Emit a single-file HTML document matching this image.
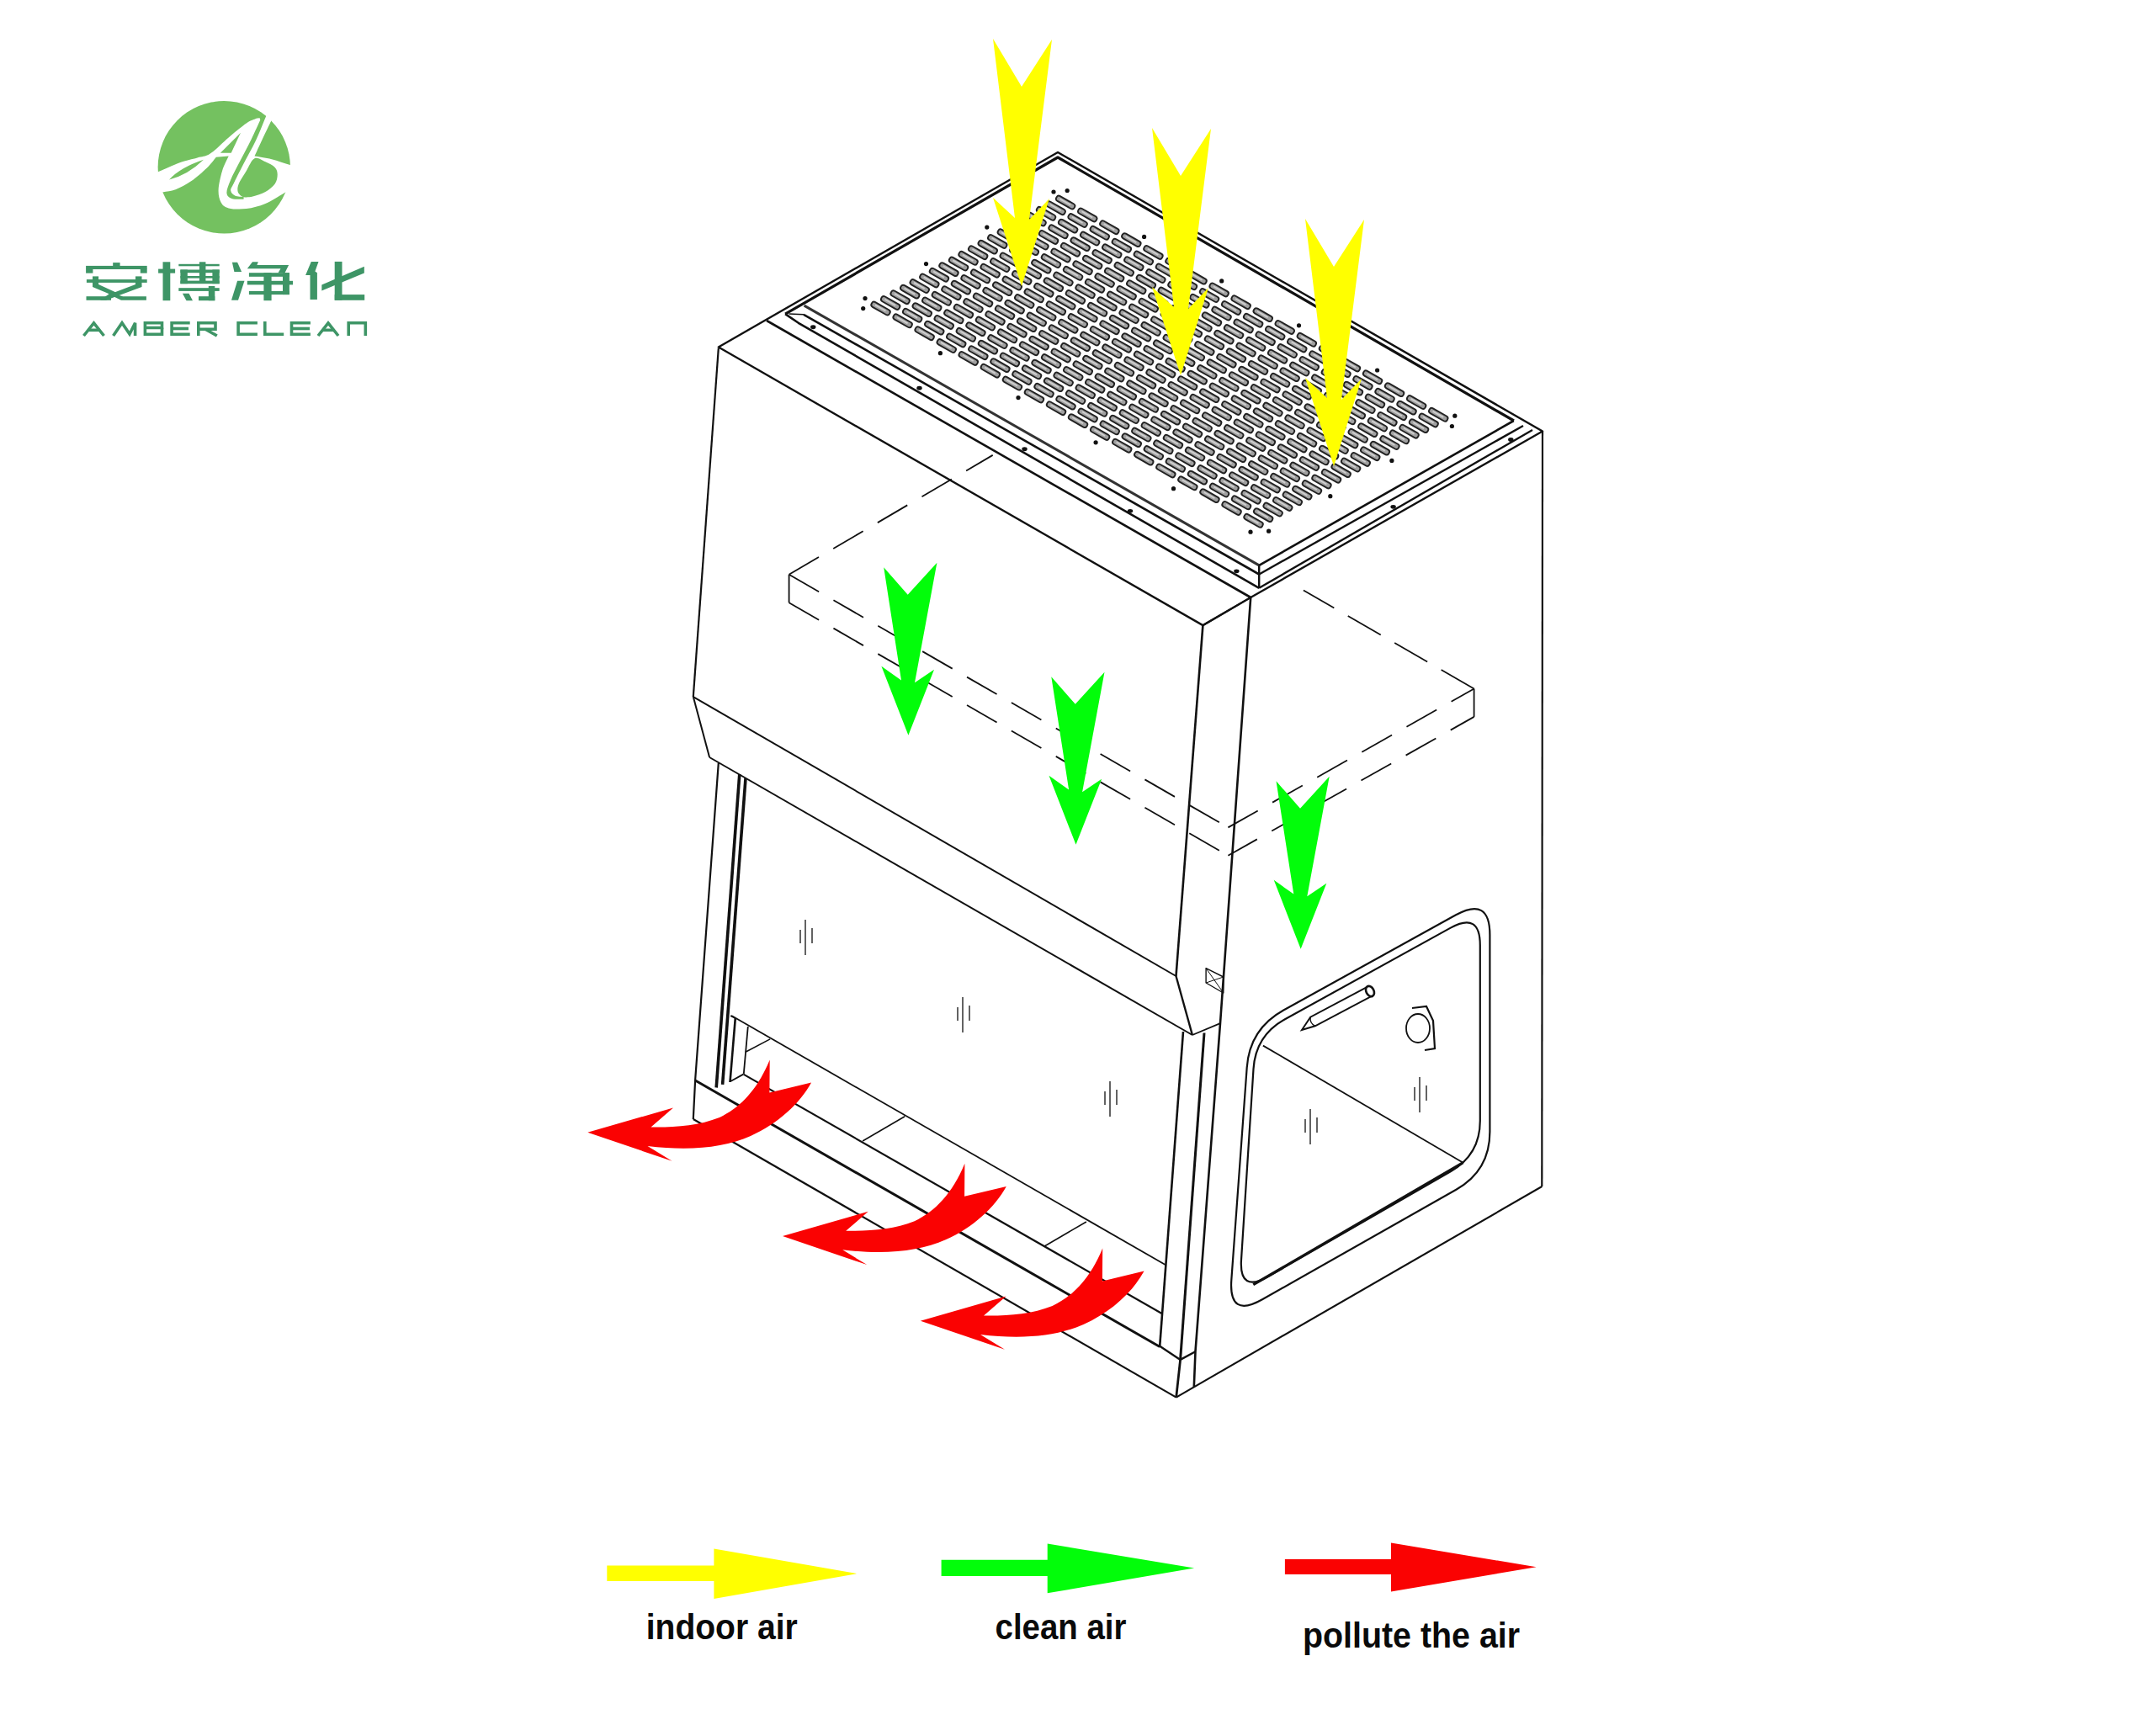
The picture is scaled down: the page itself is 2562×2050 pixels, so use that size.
<!DOCTYPE html>
<html><head><meta charset="utf-8"><title>Biosafety cabinet airflow</title>
<style>html,body{margin:0;padding:0;background:#fff;} body{width:2562px;height:2050px;overflow:hidden;font-family:"Liberation Sans",sans-serif;} svg{display:block;}</style>
</head><body>
<svg width="2562" height="2050" viewBox="0 0 2562 2050"><circle cx="266.3" cy="198.8" r="78.7" fill="#fff"/>
<clipPath id="lc"><circle cx="266.3" cy="198.8" r="78.7"/></clipPath>
<g clip-path="url(#lc)" fill="#74c160"><path d="M175.00,210.00 C181.22,207.28 202.38,197.47 212.30,193.70 C222.22,189.93 228.25,189.27 234.50,187.40 C240.75,185.53 243.23,186.83 249.80,182.50 C256.37,178.17 266.73,167.42 273.90,161.40 C281.07,155.38 287.87,149.77 292.80,146.40 C297.73,143.03 300.87,142.22 303.50,141.20 C306.13,140.18 307.75,140.45 308.60,140.30 L309.30,142.60 C307.55,146.37 302.82,157.03 298.80,165.20 C294.78,173.37 289.35,183.43 285.20,191.60 C281.05,199.77 276.53,207.92 273.90,214.20 C271.27,220.48 269.15,225.67 269.40,229.30 C269.65,232.93 272.05,234.75 275.40,236.00 C278.75,237.25 287.15,236.67 289.50,236.80 L289.70,234.20 C287.95,233.92 281.78,233.78 279.20,232.50 C276.62,231.22 274.45,228.92 274.20,226.50 C273.95,224.08 275.23,223.18 277.70,218.00 C280.17,212.82 284.60,203.95 289.00,195.40 C293.40,186.85 299.43,176.60 304.10,166.70 C308.77,156.80 314.85,141.12 317.00,136.00 L330,100 L160,100 L160,210 Z"/><path d="M261.9,181.8 L274.7,181.8 L286,157.7 Z"/><path d="M175.00,232.00 C178.00,231.43 187.40,229.72 193.00,228.60 C198.60,227.48 202.92,227.52 208.60,225.30 C214.28,223.08 220.92,219.57 227.10,215.30 C233.28,211.03 240.75,204.47 245.70,199.70 C250.65,194.93 254.95,188.87 256.80,186.70 L271.70,185.60 C270.43,188.48 266.12,196.25 264.10,202.90 C262.08,209.55 259.85,219.22 259.60,225.50 C259.35,231.78 260.58,236.95 262.60,240.60 C264.62,244.25 266.67,246.15 271.70,247.40 C276.73,248.65 285.52,248.98 292.80,248.10 C300.08,247.22 307.87,245.23 315.40,242.10 C322.93,238.97 331.90,232.98 338.00,229.30 C344.10,225.62 349.67,221.55 352.00,220.00 L360,300 L160,300 Z"/><path d="M201.1,213.4 Q214,199 242,189.7 Q223,208 201.1,213.4 Z"/><path d="M360,200 L360,120 L326,120 L322.10,144.10 C320.42,147.58 315.27,158.08 312.00,165.00 C308.73,171.92 304.08,182.17 302.50,185.60 L302.50,185.60 C305.90,186.22 315.87,187.55 322.90,189.30 C329.93,191.05 338.52,194.32 344.70,196.10 C350.88,197.88 357.45,199.35 360.00,200.00 Z"/><path d="M302.50,188.20 C306.27,186.43 311.37,190.50 315.40,192.30 C319.43,194.10 324.32,196.47 326.70,199.00 C329.08,201.53 329.70,204.25 329.70,207.50 C329.70,210.75 329.08,215.08 326.70,218.50 C324.32,221.92 319.80,225.50 315.40,228.00 C311.00,230.50 304.58,232.47 300.30,233.50 C296.02,234.53 292.28,234.58 289.70,234.20 C287.12,233.82 286.02,232.48 284.80,231.20 C283.58,229.92 282.55,228.70 282.40,226.50 C282.25,224.30 282.17,221.93 283.90,218.00 C285.63,214.07 289.70,207.87 292.80,202.90 C295.90,197.93 298.73,189.97 302.50,188.20 Z"/></g>
<rect x="134.2" y="312.1" width="8.4" height="4.4" fill="#3e9566"/>
<rect x="102.1" y="315.9" width="72.6" height="4.1" fill="#3e9566"/>
<rect x="102.1" y="319.5" width="8.3" height="5.1" fill="#3e9566"/>
<rect x="166.8" y="319.5" width="7.9" height="5.1" fill="#3e9566"/>
<rect x="102.9" y="332.1" width="71.8" height="3.8" fill="#3e9566"/>
<rect x="110.0" y="328.4" width="7.1" height="12.1" fill="#3e9566"/>
<rect x="161.0" y="328.4" width="7.5" height="11.6" fill="#3e9566"/>
<polygon points="110.0,338.0 117.1,338.0 141.0,349.0 135.0,351.5 110.0,341.0" fill="#3e9566"/>
<polygon points="161.0,338.0 168.5,340.0 168.5,341.0 126.0,356.8 119.0,356.8 128.0,350.5" fill="#3e9566"/>
<polygon points="128.0,349.0 135.0,349.0 146.0,352.2 173.9,352.2 173.9,356.8 144.0,356.8" fill="#3e9566"/>
<rect x="102.5" y="352.2" width="29.5" height="4.6" fill="#3e9566"/>
<rect x="193.5" y="311.3" width="8.8" height="45.9" fill="#3e9566"/>
<rect x="188.1" y="319.6" width="20.0" height="5.0" fill="#3e9566"/>
<rect x="212.3" y="313.8" width="48.4" height="2.5" fill="#3e9566"/>
<rect x="236.9" y="311.3" width="7.5" height="25.7" fill="#3e9566"/>
<rect x="214.4" y="320.5" width="46.3" height="3.7" fill="#3e9566"/>
<rect x="214.4" y="328.0" width="46.3" height="2.6" fill="#3e9566"/>
<rect x="214.4" y="333.6" width="46.3" height="3.6" fill="#3e9566"/>
<rect x="214.4" y="320.5" width="8.4" height="16.7" fill="#3e9566"/>
<rect x="252.4" y="320.5" width="8.3" height="16.7" fill="#3e9566"/>
<rect x="212.3" y="342.2" width="48.4" height="3.7" fill="#3e9566"/>
<rect x="247.8" y="340.0" width="7.5" height="17.2" fill="#3e9566"/>
<rect x="236.0" y="352.2" width="19.3" height="5.0" fill="#3e9566"/>
<polygon points="216.9,348.8 224.5,348.8 229.0,357.2 221.5,357.2" fill="#3e9566"/>
<polygon points="275.9,311.7 282.1,311.7 287.1,323.0 278.4,323.0" fill="#3e9566"/>
<polygon points="282.1,333.8 290.5,333.8 283.0,356.8 275.0,356.8" fill="#3e9566"/>
<polygon points="300.0,311.3 306.8,311.3 305.4,315.0 343.1,315.0 338.5,324.2 330.5,324.2 333.5,319.2 293.8,319.2" fill="#3e9566"/>
<rect x="295.9" y="324.2" width="48.0" height="4.6" fill="#3e9566"/>
<rect x="293.8" y="333.8" width="54.2" height="4.6" fill="#3e9566"/>
<rect x="295.9" y="345.9" width="48.0" height="4.2" fill="#3e9566"/>
<rect x="336.0" y="324.2" width="7.9" height="25.9" fill="#3e9566"/>
<rect x="313.4" y="324.2" width="9.2" height="33.0" fill="#3e9566"/>
<polygon points="369.8,310.9 378.5,310.9 374.4,322.5 376.9,324.2 376.9,355.9 368.5,355.9 368.5,327.1 363.1,327.1" fill="#3e9566"/>
<rect x="397.7" y="310.9" width="8.8" height="45.9" fill="#3e9566"/>
<rect x="397.7" y="350.1" width="35.5" height="6.7" fill="#3e9566"/>
<polygon points="382.3,338.4 432.8,316.7 432.8,324.6 382.3,345.5" fill="#3e9566"/>
<polyline points="99.5,399.0 111.5,383.8 123.5,399.0" fill="none" stroke="#3e9566" stroke-width="3.6" stroke-linejoin="miter" stroke-linecap="butt"/>
<polyline points="104.5,392.3 118.5,392.3" fill="none" stroke="#3e9566" stroke-width="3.6" stroke-linejoin="miter" stroke-linecap="butt"/>
<polyline points="134.6,399.0 145.0,383.8 154.0,397.0 160.6,383.8 160.6,399.0" fill="none" stroke="#3e9566" stroke-width="3.6" stroke-linejoin="miter" stroke-linecap="butt"/>
<polyline points="172.4,399.0 172.4,383.8 192.5,383.8 192.5,389.5 172.4,389.5" fill="none" stroke="#3e9566" stroke-width="3.6" stroke-linejoin="miter" stroke-linecap="butt"/>
<polyline points="172.4,397.2 192.5,397.2 192.5,389.5" fill="none" stroke="#3e9566" stroke-width="3.6" stroke-linejoin="miter" stroke-linecap="butt"/>
<polyline points="225.7,383.8 204.1,383.8 204.1,397.2 225.7,397.2" fill="none" stroke="#3e9566" stroke-width="3.6" stroke-linejoin="miter" stroke-linecap="butt"/>
<polyline points="204.1,390.5 224.0,390.5" fill="none" stroke="#3e9566" stroke-width="3.6" stroke-linejoin="miter" stroke-linecap="butt"/>
<polyline points="235.8,399.0 235.8,383.8 256.0,383.8 256.0,391.3 235.8,391.3" fill="none" stroke="#3e9566" stroke-width="3.6" stroke-linejoin="miter" stroke-linecap="butt"/>
<polyline points="244.0,391.3 257.8,399.0" fill="none" stroke="#3e9566" stroke-width="3.6" stroke-linejoin="miter" stroke-linecap="butt"/>
<polyline points="305.9,383.8 283.1,383.8 283.1,397.2 305.9,397.2" fill="none" stroke="#3e9566" stroke-width="3.6" stroke-linejoin="miter" stroke-linecap="butt"/>
<polyline points="314.8,382.0 314.8,397.2 337.2,397.2" fill="none" stroke="#3e9566" stroke-width="3.6" stroke-linejoin="miter" stroke-linecap="butt"/>
<polyline points="368.9,383.8 346.5,383.8 346.5,397.2 368.9,397.2" fill="none" stroke="#3e9566" stroke-width="3.6" stroke-linejoin="miter" stroke-linecap="butt"/>
<polyline points="346.5,390.5 368.0,390.5" fill="none" stroke="#3e9566" stroke-width="3.6" stroke-linejoin="miter" stroke-linecap="butt"/>
<polyline points="378.0,399.0 390.0,383.8 402.0,399.0" fill="none" stroke="#3e9566" stroke-width="3.6" stroke-linejoin="miter" stroke-linecap="butt"/>
<polyline points="383.0,392.3 397.0,392.3" fill="none" stroke="#3e9566" stroke-width="3.6" stroke-linejoin="miter" stroke-linecap="butt"/>
<polyline points="414.2,399.0 414.2,383.8 434.3,383.8 434.3,399.0" fill="none" stroke="#3e9566" stroke-width="3.6" stroke-linejoin="miter" stroke-linecap="butt"/>
<g fill="#a0a0a0" stroke="#222" stroke-width="1.9"><g transform="translate(1046.5,366.5) rotate(29.7)"><rect x="-12.2" y="-3.3" width="24.5" height="6.6" rx="3"/><rect x="-7.8" y="-1.2" width="14.5" height="1.8" fill="#d0d0d0" stroke="none"/></g><g transform="translate(1072.6,381.3) rotate(29.7)"><rect x="-12.2" y="-3.3" width="24.5" height="6.6" rx="3"/><rect x="-7.8" y="-1.2" width="14.5" height="1.8" fill="#d0d0d0" stroke="none"/></g><g transform="translate(1098.6,396.2) rotate(29.7)"><rect x="-12.2" y="-3.3" width="24.5" height="6.6" rx="3"/><rect x="-7.8" y="-1.2" width="14.5" height="1.8" fill="#d0d0d0" stroke="none"/></g><g transform="translate(1124.7,411.0) rotate(29.7)"><rect x="-12.2" y="-3.3" width="24.5" height="6.6" rx="3"/><rect x="-7.8" y="-1.2" width="14.5" height="1.8" fill="#d0d0d0" stroke="none"/></g><g transform="translate(1150.7,425.9) rotate(29.7)"><rect x="-12.2" y="-3.3" width="24.5" height="6.6" rx="3"/><rect x="-7.8" y="-1.2" width="14.5" height="1.8" fill="#d0d0d0" stroke="none"/></g><g transform="translate(1176.8,440.7) rotate(29.7)"><rect x="-12.2" y="-3.3" width="24.5" height="6.6" rx="3"/><rect x="-7.8" y="-1.2" width="14.5" height="1.8" fill="#d0d0d0" stroke="none"/></g><g transform="translate(1202.9,455.5) rotate(29.7)"><rect x="-12.2" y="-3.3" width="24.5" height="6.6" rx="3"/><rect x="-7.8" y="-1.2" width="14.5" height="1.8" fill="#d0d0d0" stroke="none"/></g><g transform="translate(1228.9,470.4) rotate(29.7)"><rect x="-12.2" y="-3.3" width="24.5" height="6.6" rx="3"/><rect x="-7.8" y="-1.2" width="14.5" height="1.8" fill="#d0d0d0" stroke="none"/></g><g transform="translate(1255.0,485.2) rotate(29.7)"><rect x="-12.2" y="-3.3" width="24.5" height="6.6" rx="3"/><rect x="-7.8" y="-1.2" width="14.5" height="1.8" fill="#d0d0d0" stroke="none"/></g><g transform="translate(1281.0,500.1) rotate(29.7)"><rect x="-12.2" y="-3.3" width="24.5" height="6.6" rx="3"/><rect x="-7.8" y="-1.2" width="14.5" height="1.8" fill="#d0d0d0" stroke="none"/></g><g transform="translate(1307.1,514.9) rotate(29.7)"><rect x="-12.2" y="-3.3" width="24.5" height="6.6" rx="3"/><rect x="-7.8" y="-1.2" width="14.5" height="1.8" fill="#d0d0d0" stroke="none"/></g><g transform="translate(1333.2,529.7) rotate(29.7)"><rect x="-12.2" y="-3.3" width="24.5" height="6.6" rx="3"/><rect x="-7.8" y="-1.2" width="14.5" height="1.8" fill="#d0d0d0" stroke="none"/></g><g transform="translate(1359.2,544.6) rotate(29.7)"><rect x="-12.2" y="-3.3" width="24.5" height="6.6" rx="3"/><rect x="-7.8" y="-1.2" width="14.5" height="1.8" fill="#d0d0d0" stroke="none"/></g><g transform="translate(1385.3,559.4) rotate(29.7)"><rect x="-12.2" y="-3.3" width="24.5" height="6.6" rx="3"/><rect x="-7.8" y="-1.2" width="14.5" height="1.8" fill="#d0d0d0" stroke="none"/></g><g transform="translate(1411.3,574.3) rotate(29.7)"><rect x="-12.2" y="-3.3" width="24.5" height="6.6" rx="3"/><rect x="-7.8" y="-1.2" width="14.5" height="1.8" fill="#d0d0d0" stroke="none"/></g><g transform="translate(1437.4,589.1) rotate(29.7)"><rect x="-12.2" y="-3.3" width="24.5" height="6.6" rx="3"/><rect x="-7.8" y="-1.2" width="14.5" height="1.8" fill="#d0d0d0" stroke="none"/></g><g transform="translate(1463.5,603.9) rotate(29.7)"><rect x="-12.2" y="-3.3" width="24.5" height="6.6" rx="3"/><rect x="-7.8" y="-1.2" width="14.5" height="1.8" fill="#d0d0d0" stroke="none"/></g><g transform="translate(1489.5,618.8) rotate(29.7)"><rect x="-12.2" y="-3.3" width="24.5" height="6.6" rx="3"/><rect x="-7.8" y="-1.2" width="14.5" height="1.8" fill="#d0d0d0" stroke="none"/></g><g transform="translate(1058.1,359.9) rotate(29.7)"><rect x="-12.2" y="-3.3" width="24.5" height="6.6" rx="3"/><rect x="-7.8" y="-1.2" width="14.5" height="1.8" fill="#d0d0d0" stroke="none"/></g><g transform="translate(1084.1,374.7) rotate(29.7)"><rect x="-12.2" y="-3.3" width="24.5" height="6.6" rx="3"/><rect x="-7.8" y="-1.2" width="14.5" height="1.8" fill="#d0d0d0" stroke="none"/></g><g transform="translate(1110.2,389.6) rotate(29.7)"><rect x="-12.2" y="-3.3" width="24.5" height="6.6" rx="3"/><rect x="-7.8" y="-1.2" width="14.5" height="1.8" fill="#d0d0d0" stroke="none"/></g><g transform="translate(1136.2,404.4) rotate(29.7)"><rect x="-12.2" y="-3.3" width="24.5" height="6.6" rx="3"/><rect x="-7.8" y="-1.2" width="14.5" height="1.8" fill="#d0d0d0" stroke="none"/></g><g transform="translate(1162.3,419.2) rotate(29.7)"><rect x="-12.2" y="-3.3" width="24.5" height="6.6" rx="3"/><rect x="-7.8" y="-1.2" width="14.5" height="1.8" fill="#d0d0d0" stroke="none"/></g><g transform="translate(1188.4,434.1) rotate(29.7)"><rect x="-12.2" y="-3.3" width="24.5" height="6.6" rx="3"/><rect x="-7.8" y="-1.2" width="14.5" height="1.8" fill="#d0d0d0" stroke="none"/></g><g transform="translate(1214.4,448.9) rotate(29.7)"><rect x="-12.2" y="-3.3" width="24.5" height="6.6" rx="3"/><rect x="-7.8" y="-1.2" width="14.5" height="1.8" fill="#d0d0d0" stroke="none"/></g><g transform="translate(1240.5,463.8) rotate(29.7)"><rect x="-12.2" y="-3.3" width="24.5" height="6.6" rx="3"/><rect x="-7.8" y="-1.2" width="14.5" height="1.8" fill="#d0d0d0" stroke="none"/></g><g transform="translate(1266.5,478.6) rotate(29.7)"><rect x="-12.2" y="-3.3" width="24.5" height="6.6" rx="3"/><rect x="-7.8" y="-1.2" width="14.5" height="1.8" fill="#d0d0d0" stroke="none"/></g><g transform="translate(1292.6,493.4) rotate(29.7)"><rect x="-12.2" y="-3.3" width="24.5" height="6.6" rx="3"/><rect x="-7.8" y="-1.2" width="14.5" height="1.8" fill="#d0d0d0" stroke="none"/></g><g transform="translate(1318.7,508.3) rotate(29.7)"><rect x="-12.2" y="-3.3" width="24.5" height="6.6" rx="3"/><rect x="-7.8" y="-1.2" width="14.5" height="1.8" fill="#d0d0d0" stroke="none"/></g><g transform="translate(1344.7,523.1) rotate(29.7)"><rect x="-12.2" y="-3.3" width="24.5" height="6.6" rx="3"/><rect x="-7.8" y="-1.2" width="14.5" height="1.8" fill="#d0d0d0" stroke="none"/></g><g transform="translate(1370.8,538.0) rotate(29.7)"><rect x="-12.2" y="-3.3" width="24.5" height="6.6" rx="3"/><rect x="-7.8" y="-1.2" width="14.5" height="1.8" fill="#d0d0d0" stroke="none"/></g><g transform="translate(1396.8,552.8) rotate(29.7)"><rect x="-12.2" y="-3.3" width="24.5" height="6.6" rx="3"/><rect x="-7.8" y="-1.2" width="14.5" height="1.8" fill="#d0d0d0" stroke="none"/></g><g transform="translate(1422.9,567.6) rotate(29.7)"><rect x="-12.2" y="-3.3" width="24.5" height="6.6" rx="3"/><rect x="-7.8" y="-1.2" width="14.5" height="1.8" fill="#d0d0d0" stroke="none"/></g><g transform="translate(1449.0,582.5) rotate(29.7)"><rect x="-12.2" y="-3.3" width="24.5" height="6.6" rx="3"/><rect x="-7.8" y="-1.2" width="14.5" height="1.8" fill="#d0d0d0" stroke="none"/></g><g transform="translate(1475.0,597.3) rotate(29.7)"><rect x="-12.2" y="-3.3" width="24.5" height="6.6" rx="3"/><rect x="-7.8" y="-1.2" width="14.5" height="1.8" fill="#d0d0d0" stroke="none"/></g><g transform="translate(1501.1,612.1) rotate(29.7)"><rect x="-12.2" y="-3.3" width="24.5" height="6.6" rx="3"/><rect x="-7.8" y="-1.2" width="14.5" height="1.8" fill="#d0d0d0" stroke="none"/></g><g transform="translate(1069.6,353.2) rotate(29.7)"><rect x="-12.2" y="-3.3" width="24.5" height="6.6" rx="3"/><rect x="-7.8" y="-1.2" width="14.5" height="1.8" fill="#d0d0d0" stroke="none"/></g><g transform="translate(1095.7,368.1) rotate(29.7)"><rect x="-12.2" y="-3.3" width="24.5" height="6.6" rx="3"/><rect x="-7.8" y="-1.2" width="14.5" height="1.8" fill="#d0d0d0" stroke="none"/></g><g transform="translate(1121.7,382.9) rotate(29.7)"><rect x="-12.2" y="-3.3" width="24.5" height="6.6" rx="3"/><rect x="-7.8" y="-1.2" width="14.5" height="1.8" fill="#d0d0d0" stroke="none"/></g><g transform="translate(1147.8,397.8) rotate(29.7)"><rect x="-12.2" y="-3.3" width="24.5" height="6.6" rx="3"/><rect x="-7.8" y="-1.2" width="14.5" height="1.8" fill="#d0d0d0" stroke="none"/></g><g transform="translate(1173.9,412.6) rotate(29.7)"><rect x="-12.2" y="-3.3" width="24.5" height="6.6" rx="3"/><rect x="-7.8" y="-1.2" width="14.5" height="1.8" fill="#d0d0d0" stroke="none"/></g><g transform="translate(1199.9,427.4) rotate(29.7)"><rect x="-12.2" y="-3.3" width="24.5" height="6.6" rx="3"/><rect x="-7.8" y="-1.2" width="14.5" height="1.8" fill="#d0d0d0" stroke="none"/></g><g transform="translate(1226.0,442.3) rotate(29.7)"><rect x="-12.2" y="-3.3" width="24.5" height="6.6" rx="3"/><rect x="-7.8" y="-1.2" width="14.5" height="1.8" fill="#d0d0d0" stroke="none"/></g><g transform="translate(1252.0,457.1) rotate(29.7)"><rect x="-12.2" y="-3.3" width="24.5" height="6.6" rx="3"/><rect x="-7.8" y="-1.2" width="14.5" height="1.8" fill="#d0d0d0" stroke="none"/></g><g transform="translate(1278.1,472.0) rotate(29.7)"><rect x="-12.2" y="-3.3" width="24.5" height="6.6" rx="3"/><rect x="-7.8" y="-1.2" width="14.5" height="1.8" fill="#d0d0d0" stroke="none"/></g><g transform="translate(1304.2,486.8) rotate(29.7)"><rect x="-12.2" y="-3.3" width="24.5" height="6.6" rx="3"/><rect x="-7.8" y="-1.2" width="14.5" height="1.8" fill="#d0d0d0" stroke="none"/></g><g transform="translate(1330.2,501.6) rotate(29.7)"><rect x="-12.2" y="-3.3" width="24.5" height="6.6" rx="3"/><rect x="-7.8" y="-1.2" width="14.5" height="1.8" fill="#d0d0d0" stroke="none"/></g><g transform="translate(1356.3,516.5) rotate(29.7)"><rect x="-12.2" y="-3.3" width="24.5" height="6.6" rx="3"/><rect x="-7.8" y="-1.2" width="14.5" height="1.8" fill="#d0d0d0" stroke="none"/></g><g transform="translate(1382.3,531.3) rotate(29.7)"><rect x="-12.2" y="-3.3" width="24.5" height="6.6" rx="3"/><rect x="-7.8" y="-1.2" width="14.5" height="1.8" fill="#d0d0d0" stroke="none"/></g><g transform="translate(1408.4,546.2) rotate(29.7)"><rect x="-12.2" y="-3.3" width="24.5" height="6.6" rx="3"/><rect x="-7.8" y="-1.2" width="14.5" height="1.8" fill="#d0d0d0" stroke="none"/></g><g transform="translate(1434.5,561.0) rotate(29.7)"><rect x="-12.2" y="-3.3" width="24.5" height="6.6" rx="3"/><rect x="-7.8" y="-1.2" width="14.5" height="1.8" fill="#d0d0d0" stroke="none"/></g><g transform="translate(1460.5,575.8) rotate(29.7)"><rect x="-12.2" y="-3.3" width="24.5" height="6.6" rx="3"/><rect x="-7.8" y="-1.2" width="14.5" height="1.8" fill="#d0d0d0" stroke="none"/></g><g transform="translate(1486.6,590.7) rotate(29.7)"><rect x="-12.2" y="-3.3" width="24.5" height="6.6" rx="3"/><rect x="-7.8" y="-1.2" width="14.5" height="1.8" fill="#d0d0d0" stroke="none"/></g><g transform="translate(1512.6,605.5) rotate(29.7)"><rect x="-12.2" y="-3.3" width="24.5" height="6.6" rx="3"/><rect x="-7.8" y="-1.2" width="14.5" height="1.8" fill="#d0d0d0" stroke="none"/></g><g transform="translate(1081.2,346.6) rotate(29.7)"><rect x="-12.2" y="-3.3" width="24.5" height="6.6" rx="3"/><rect x="-7.8" y="-1.2" width="14.5" height="1.8" fill="#d0d0d0" stroke="none"/></g><g transform="translate(1107.2,361.4) rotate(29.7)"><rect x="-12.2" y="-3.3" width="24.5" height="6.6" rx="3"/><rect x="-7.8" y="-1.2" width="14.5" height="1.8" fill="#d0d0d0" stroke="none"/></g><g transform="translate(1133.3,376.3) rotate(29.7)"><rect x="-12.2" y="-3.3" width="24.5" height="6.6" rx="3"/><rect x="-7.8" y="-1.2" width="14.5" height="1.8" fill="#d0d0d0" stroke="none"/></g><g transform="translate(1159.4,391.1) rotate(29.7)"><rect x="-12.2" y="-3.3" width="24.5" height="6.6" rx="3"/><rect x="-7.8" y="-1.2" width="14.5" height="1.8" fill="#d0d0d0" stroke="none"/></g><g transform="translate(1185.4,406.0) rotate(29.7)"><rect x="-12.2" y="-3.3" width="24.5" height="6.6" rx="3"/><rect x="-7.8" y="-1.2" width="14.5" height="1.8" fill="#d0d0d0" stroke="none"/></g><g transform="translate(1211.5,420.8) rotate(29.7)"><rect x="-12.2" y="-3.3" width="24.5" height="6.6" rx="3"/><rect x="-7.8" y="-1.2" width="14.5" height="1.8" fill="#d0d0d0" stroke="none"/></g><g transform="translate(1237.5,435.6) rotate(29.7)"><rect x="-12.2" y="-3.3" width="24.5" height="6.6" rx="3"/><rect x="-7.8" y="-1.2" width="14.5" height="1.8" fill="#d0d0d0" stroke="none"/></g><g transform="translate(1263.6,450.5) rotate(29.7)"><rect x="-12.2" y="-3.3" width="24.5" height="6.6" rx="3"/><rect x="-7.8" y="-1.2" width="14.5" height="1.8" fill="#d0d0d0" stroke="none"/></g><g transform="translate(1289.7,465.3) rotate(29.7)"><rect x="-12.2" y="-3.3" width="24.5" height="6.6" rx="3"/><rect x="-7.8" y="-1.2" width="14.5" height="1.8" fill="#d0d0d0" stroke="none"/></g><g transform="translate(1315.7,480.2) rotate(29.7)"><rect x="-12.2" y="-3.3" width="24.5" height="6.6" rx="3"/><rect x="-7.8" y="-1.2" width="14.5" height="1.8" fill="#d0d0d0" stroke="none"/></g><g transform="translate(1341.8,495.0) rotate(29.7)"><rect x="-12.2" y="-3.3" width="24.5" height="6.6" rx="3"/><rect x="-7.8" y="-1.2" width="14.5" height="1.8" fill="#d0d0d0" stroke="none"/></g><g transform="translate(1367.8,509.9) rotate(29.7)"><rect x="-12.2" y="-3.3" width="24.5" height="6.6" rx="3"/><rect x="-7.8" y="-1.2" width="14.5" height="1.8" fill="#d0d0d0" stroke="none"/></g><g transform="translate(1393.9,524.7) rotate(29.7)"><rect x="-12.2" y="-3.3" width="24.5" height="6.6" rx="3"/><rect x="-7.8" y="-1.2" width="14.5" height="1.8" fill="#d0d0d0" stroke="none"/></g><g transform="translate(1420.0,539.5) rotate(29.7)"><rect x="-12.2" y="-3.3" width="24.5" height="6.6" rx="3"/><rect x="-7.8" y="-1.2" width="14.5" height="1.8" fill="#d0d0d0" stroke="none"/></g><g transform="translate(1446.0,554.4) rotate(29.7)"><rect x="-12.2" y="-3.3" width="24.5" height="6.6" rx="3"/><rect x="-7.8" y="-1.2" width="14.5" height="1.8" fill="#d0d0d0" stroke="none"/></g><g transform="translate(1472.1,569.2) rotate(29.7)"><rect x="-12.2" y="-3.3" width="24.5" height="6.6" rx="3"/><rect x="-7.8" y="-1.2" width="14.5" height="1.8" fill="#d0d0d0" stroke="none"/></g><g transform="translate(1498.1,584.0) rotate(29.7)"><rect x="-12.2" y="-3.3" width="24.5" height="6.6" rx="3"/><rect x="-7.8" y="-1.2" width="14.5" height="1.8" fill="#d0d0d0" stroke="none"/></g><g transform="translate(1524.2,598.9) rotate(29.7)"><rect x="-12.2" y="-3.3" width="24.5" height="6.6" rx="3"/><rect x="-7.8" y="-1.2" width="14.5" height="1.8" fill="#d0d0d0" stroke="none"/></g><g transform="translate(1092.7,340.0) rotate(29.7)"><rect x="-12.2" y="-3.3" width="24.5" height="6.6" rx="3"/><rect x="-7.8" y="-1.2" width="14.5" height="1.8" fill="#d0d0d0" stroke="none"/></g><g transform="translate(1118.8,354.8) rotate(29.7)"><rect x="-12.2" y="-3.3" width="24.5" height="6.6" rx="3"/><rect x="-7.8" y="-1.2" width="14.5" height="1.8" fill="#d0d0d0" stroke="none"/></g><g transform="translate(1144.9,369.7) rotate(29.7)"><rect x="-12.2" y="-3.3" width="24.5" height="6.6" rx="3"/><rect x="-7.8" y="-1.2" width="14.5" height="1.8" fill="#d0d0d0" stroke="none"/></g><g transform="translate(1170.9,384.5) rotate(29.7)"><rect x="-12.2" y="-3.3" width="24.5" height="6.6" rx="3"/><rect x="-7.8" y="-1.2" width="14.5" height="1.8" fill="#d0d0d0" stroke="none"/></g><g transform="translate(1197.0,399.3) rotate(29.7)"><rect x="-12.2" y="-3.3" width="24.5" height="6.6" rx="3"/><rect x="-7.8" y="-1.2" width="14.5" height="1.8" fill="#d0d0d0" stroke="none"/></g><g transform="translate(1223.0,414.2) rotate(29.7)"><rect x="-12.2" y="-3.3" width="24.5" height="6.6" rx="3"/><rect x="-7.8" y="-1.2" width="14.5" height="1.8" fill="#d0d0d0" stroke="none"/></g><g transform="translate(1249.1,429.0) rotate(29.7)"><rect x="-12.2" y="-3.3" width="24.5" height="6.6" rx="3"/><rect x="-7.8" y="-1.2" width="14.5" height="1.8" fill="#d0d0d0" stroke="none"/></g><g transform="translate(1275.2,443.9) rotate(29.7)"><rect x="-12.2" y="-3.3" width="24.5" height="6.6" rx="3"/><rect x="-7.8" y="-1.2" width="14.5" height="1.8" fill="#d0d0d0" stroke="none"/></g><g transform="translate(1301.2,458.7) rotate(29.7)"><rect x="-12.2" y="-3.3" width="24.5" height="6.6" rx="3"/><rect x="-7.8" y="-1.2" width="14.5" height="1.8" fill="#d0d0d0" stroke="none"/></g><g transform="translate(1327.3,473.5) rotate(29.7)"><rect x="-12.2" y="-3.3" width="24.5" height="6.6" rx="3"/><rect x="-7.8" y="-1.2" width="14.5" height="1.8" fill="#d0d0d0" stroke="none"/></g><g transform="translate(1353.3,488.4) rotate(29.7)"><rect x="-12.2" y="-3.3" width="24.5" height="6.6" rx="3"/><rect x="-7.8" y="-1.2" width="14.5" height="1.8" fill="#d0d0d0" stroke="none"/></g><g transform="translate(1379.4,503.2) rotate(29.7)"><rect x="-12.2" y="-3.3" width="24.5" height="6.6" rx="3"/><rect x="-7.8" y="-1.2" width="14.5" height="1.8" fill="#d0d0d0" stroke="none"/></g><g transform="translate(1405.5,518.1) rotate(29.7)"><rect x="-12.2" y="-3.3" width="24.5" height="6.6" rx="3"/><rect x="-7.8" y="-1.2" width="14.5" height="1.8" fill="#d0d0d0" stroke="none"/></g><g transform="translate(1431.5,532.9) rotate(29.7)"><rect x="-12.2" y="-3.3" width="24.5" height="6.6" rx="3"/><rect x="-7.8" y="-1.2" width="14.5" height="1.8" fill="#d0d0d0" stroke="none"/></g><g transform="translate(1457.6,547.7) rotate(29.7)"><rect x="-12.2" y="-3.3" width="24.5" height="6.6" rx="3"/><rect x="-7.8" y="-1.2" width="14.5" height="1.8" fill="#d0d0d0" stroke="none"/></g><g transform="translate(1483.6,562.6) rotate(29.7)"><rect x="-12.2" y="-3.3" width="24.5" height="6.6" rx="3"/><rect x="-7.8" y="-1.2" width="14.5" height="1.8" fill="#d0d0d0" stroke="none"/></g><g transform="translate(1509.7,577.4) rotate(29.7)"><rect x="-12.2" y="-3.3" width="24.5" height="6.6" rx="3"/><rect x="-7.8" y="-1.2" width="14.5" height="1.8" fill="#d0d0d0" stroke="none"/></g><g transform="translate(1535.8,592.3) rotate(29.7)"><rect x="-12.2" y="-3.3" width="24.5" height="6.6" rx="3"/><rect x="-7.8" y="-1.2" width="14.5" height="1.8" fill="#d0d0d0" stroke="none"/></g><g transform="translate(1104.3,333.4) rotate(29.7)"><rect x="-12.2" y="-3.3" width="24.5" height="6.6" rx="3"/><rect x="-7.8" y="-1.2" width="14.5" height="1.8" fill="#d0d0d0" stroke="none"/></g><g transform="translate(1130.4,348.2) rotate(29.7)"><rect x="-12.2" y="-3.3" width="24.5" height="6.6" rx="3"/><rect x="-7.8" y="-1.2" width="14.5" height="1.8" fill="#d0d0d0" stroke="none"/></g><g transform="translate(1156.4,363.0) rotate(29.7)"><rect x="-12.2" y="-3.3" width="24.5" height="6.6" rx="3"/><rect x="-7.8" y="-1.2" width="14.5" height="1.8" fill="#d0d0d0" stroke="none"/></g><g transform="translate(1182.5,377.9) rotate(29.7)"><rect x="-12.2" y="-3.3" width="24.5" height="6.6" rx="3"/><rect x="-7.8" y="-1.2" width="14.5" height="1.8" fill="#d0d0d0" stroke="none"/></g><g transform="translate(1208.5,392.7) rotate(29.7)"><rect x="-12.2" y="-3.3" width="24.5" height="6.6" rx="3"/><rect x="-7.8" y="-1.2" width="14.5" height="1.8" fill="#d0d0d0" stroke="none"/></g><g transform="translate(1234.6,407.6) rotate(29.7)"><rect x="-12.2" y="-3.3" width="24.5" height="6.6" rx="3"/><rect x="-7.8" y="-1.2" width="14.5" height="1.8" fill="#d0d0d0" stroke="none"/></g><g transform="translate(1260.7,422.4) rotate(29.7)"><rect x="-12.2" y="-3.3" width="24.5" height="6.6" rx="3"/><rect x="-7.8" y="-1.2" width="14.5" height="1.8" fill="#d0d0d0" stroke="none"/></g><g transform="translate(1286.7,437.2) rotate(29.7)"><rect x="-12.2" y="-3.3" width="24.5" height="6.6" rx="3"/><rect x="-7.8" y="-1.2" width="14.5" height="1.8" fill="#d0d0d0" stroke="none"/></g><g transform="translate(1312.8,452.1) rotate(29.7)"><rect x="-12.2" y="-3.3" width="24.5" height="6.6" rx="3"/><rect x="-7.8" y="-1.2" width="14.5" height="1.8" fill="#d0d0d0" stroke="none"/></g><g transform="translate(1338.8,466.9) rotate(29.7)"><rect x="-12.2" y="-3.3" width="24.5" height="6.6" rx="3"/><rect x="-7.8" y="-1.2" width="14.5" height="1.8" fill="#d0d0d0" stroke="none"/></g><g transform="translate(1364.9,481.8) rotate(29.7)"><rect x="-12.2" y="-3.3" width="24.5" height="6.6" rx="3"/><rect x="-7.8" y="-1.2" width="14.5" height="1.8" fill="#d0d0d0" stroke="none"/></g><g transform="translate(1391.0,496.6) rotate(29.7)"><rect x="-12.2" y="-3.3" width="24.5" height="6.6" rx="3"/><rect x="-7.8" y="-1.2" width="14.5" height="1.8" fill="#d0d0d0" stroke="none"/></g><g transform="translate(1417.0,511.4) rotate(29.7)"><rect x="-12.2" y="-3.3" width="24.5" height="6.6" rx="3"/><rect x="-7.8" y="-1.2" width="14.5" height="1.8" fill="#d0d0d0" stroke="none"/></g><g transform="translate(1443.1,526.3) rotate(29.7)"><rect x="-12.2" y="-3.3" width="24.5" height="6.6" rx="3"/><rect x="-7.8" y="-1.2" width="14.5" height="1.8" fill="#d0d0d0" stroke="none"/></g><g transform="translate(1469.1,541.1) rotate(29.7)"><rect x="-12.2" y="-3.3" width="24.5" height="6.6" rx="3"/><rect x="-7.8" y="-1.2" width="14.5" height="1.8" fill="#d0d0d0" stroke="none"/></g><g transform="translate(1495.2,556.0) rotate(29.7)"><rect x="-12.2" y="-3.3" width="24.5" height="6.6" rx="3"/><rect x="-7.8" y="-1.2" width="14.5" height="1.8" fill="#d0d0d0" stroke="none"/></g><g transform="translate(1521.3,570.8) rotate(29.7)"><rect x="-12.2" y="-3.3" width="24.5" height="6.6" rx="3"/><rect x="-7.8" y="-1.2" width="14.5" height="1.8" fill="#d0d0d0" stroke="none"/></g><g transform="translate(1547.3,585.6) rotate(29.7)"><rect x="-12.2" y="-3.3" width="24.5" height="6.6" rx="3"/><rect x="-7.8" y="-1.2" width="14.5" height="1.8" fill="#d0d0d0" stroke="none"/></g><g transform="translate(1115.9,326.7) rotate(29.7)"><rect x="-12.2" y="-3.3" width="24.5" height="6.6" rx="3"/><rect x="-7.8" y="-1.2" width="14.5" height="1.8" fill="#d0d0d0" stroke="none"/></g><g transform="translate(1141.9,341.6) rotate(29.7)"><rect x="-12.2" y="-3.3" width="24.5" height="6.6" rx="3"/><rect x="-7.8" y="-1.2" width="14.5" height="1.8" fill="#d0d0d0" stroke="none"/></g><g transform="translate(1168.0,356.4) rotate(29.7)"><rect x="-12.2" y="-3.3" width="24.5" height="6.6" rx="3"/><rect x="-7.8" y="-1.2" width="14.5" height="1.8" fill="#d0d0d0" stroke="none"/></g><g transform="translate(1194.0,371.2) rotate(29.7)"><rect x="-12.2" y="-3.3" width="24.5" height="6.6" rx="3"/><rect x="-7.8" y="-1.2" width="14.5" height="1.8" fill="#d0d0d0" stroke="none"/></g><g transform="translate(1220.1,386.1) rotate(29.7)"><rect x="-12.2" y="-3.3" width="24.5" height="6.6" rx="3"/><rect x="-7.8" y="-1.2" width="14.5" height="1.8" fill="#d0d0d0" stroke="none"/></g><g transform="translate(1246.2,400.9) rotate(29.7)"><rect x="-12.2" y="-3.3" width="24.5" height="6.6" rx="3"/><rect x="-7.8" y="-1.2" width="14.5" height="1.8" fill="#d0d0d0" stroke="none"/></g><g transform="translate(1272.2,415.8) rotate(29.7)"><rect x="-12.2" y="-3.3" width="24.5" height="6.6" rx="3"/><rect x="-7.8" y="-1.2" width="14.5" height="1.8" fill="#d0d0d0" stroke="none"/></g><g transform="translate(1298.3,430.6) rotate(29.7)"><rect x="-12.2" y="-3.3" width="24.5" height="6.6" rx="3"/><rect x="-7.8" y="-1.2" width="14.5" height="1.8" fill="#d0d0d0" stroke="none"/></g><g transform="translate(1324.3,445.4) rotate(29.7)"><rect x="-12.2" y="-3.3" width="24.5" height="6.6" rx="3"/><rect x="-7.8" y="-1.2" width="14.5" height="1.8" fill="#d0d0d0" stroke="none"/></g><g transform="translate(1350.4,460.3) rotate(29.7)"><rect x="-12.2" y="-3.3" width="24.5" height="6.6" rx="3"/><rect x="-7.8" y="-1.2" width="14.5" height="1.8" fill="#d0d0d0" stroke="none"/></g><g transform="translate(1376.5,475.1) rotate(29.7)"><rect x="-12.2" y="-3.3" width="24.5" height="6.6" rx="3"/><rect x="-7.8" y="-1.2" width="14.5" height="1.8" fill="#d0d0d0" stroke="none"/></g><g transform="translate(1402.5,490.0) rotate(29.7)"><rect x="-12.2" y="-3.3" width="24.5" height="6.6" rx="3"/><rect x="-7.8" y="-1.2" width="14.5" height="1.8" fill="#d0d0d0" stroke="none"/></g><g transform="translate(1428.6,504.8) rotate(29.7)"><rect x="-12.2" y="-3.3" width="24.5" height="6.6" rx="3"/><rect x="-7.8" y="-1.2" width="14.5" height="1.8" fill="#d0d0d0" stroke="none"/></g><g transform="translate(1454.6,519.6) rotate(29.7)"><rect x="-12.2" y="-3.3" width="24.5" height="6.6" rx="3"/><rect x="-7.8" y="-1.2" width="14.5" height="1.8" fill="#d0d0d0" stroke="none"/></g><g transform="translate(1480.7,534.5) rotate(29.7)"><rect x="-12.2" y="-3.3" width="24.5" height="6.6" rx="3"/><rect x="-7.8" y="-1.2" width="14.5" height="1.8" fill="#d0d0d0" stroke="none"/></g><g transform="translate(1506.8,549.3) rotate(29.7)"><rect x="-12.2" y="-3.3" width="24.5" height="6.6" rx="3"/><rect x="-7.8" y="-1.2" width="14.5" height="1.8" fill="#d0d0d0" stroke="none"/></g><g transform="translate(1532.8,564.2) rotate(29.7)"><rect x="-12.2" y="-3.3" width="24.5" height="6.6" rx="3"/><rect x="-7.8" y="-1.2" width="14.5" height="1.8" fill="#d0d0d0" stroke="none"/></g><g transform="translate(1558.9,579.0) rotate(29.7)"><rect x="-12.2" y="-3.3" width="24.5" height="6.6" rx="3"/><rect x="-7.8" y="-1.2" width="14.5" height="1.8" fill="#d0d0d0" stroke="none"/></g><g transform="translate(1127.4,320.1) rotate(29.7)"><rect x="-12.2" y="-3.3" width="24.5" height="6.6" rx="3"/><rect x="-7.8" y="-1.2" width="14.5" height="1.8" fill="#d0d0d0" stroke="none"/></g><g transform="translate(1153.5,334.9) rotate(29.7)"><rect x="-12.2" y="-3.3" width="24.5" height="6.6" rx="3"/><rect x="-7.8" y="-1.2" width="14.5" height="1.8" fill="#d0d0d0" stroke="none"/></g><g transform="translate(1179.5,349.8) rotate(29.7)"><rect x="-12.2" y="-3.3" width="24.5" height="6.6" rx="3"/><rect x="-7.8" y="-1.2" width="14.5" height="1.8" fill="#d0d0d0" stroke="none"/></g><g transform="translate(1205.6,364.6) rotate(29.7)"><rect x="-12.2" y="-3.3" width="24.5" height="6.6" rx="3"/><rect x="-7.8" y="-1.2" width="14.5" height="1.8" fill="#d0d0d0" stroke="none"/></g><g transform="translate(1231.7,379.5) rotate(29.7)"><rect x="-12.2" y="-3.3" width="24.5" height="6.6" rx="3"/><rect x="-7.8" y="-1.2" width="14.5" height="1.8" fill="#d0d0d0" stroke="none"/></g><g transform="translate(1257.7,394.3) rotate(29.7)"><rect x="-12.2" y="-3.3" width="24.5" height="6.6" rx="3"/><rect x="-7.8" y="-1.2" width="14.5" height="1.8" fill="#d0d0d0" stroke="none"/></g><g transform="translate(1283.8,409.1) rotate(29.7)"><rect x="-12.2" y="-3.3" width="24.5" height="6.6" rx="3"/><rect x="-7.8" y="-1.2" width="14.5" height="1.8" fill="#d0d0d0" stroke="none"/></g><g transform="translate(1309.8,424.0) rotate(29.7)"><rect x="-12.2" y="-3.3" width="24.5" height="6.6" rx="3"/><rect x="-7.8" y="-1.2" width="14.5" height="1.8" fill="#d0d0d0" stroke="none"/></g><g transform="translate(1335.9,438.8) rotate(29.7)"><rect x="-12.2" y="-3.3" width="24.5" height="6.6" rx="3"/><rect x="-7.8" y="-1.2" width="14.5" height="1.8" fill="#d0d0d0" stroke="none"/></g><g transform="translate(1362.0,453.7) rotate(29.7)"><rect x="-12.2" y="-3.3" width="24.5" height="6.6" rx="3"/><rect x="-7.8" y="-1.2" width="14.5" height="1.8" fill="#d0d0d0" stroke="none"/></g><g transform="translate(1388.0,468.5) rotate(29.7)"><rect x="-12.2" y="-3.3" width="24.5" height="6.6" rx="3"/><rect x="-7.8" y="-1.2" width="14.5" height="1.8" fill="#d0d0d0" stroke="none"/></g><g transform="translate(1414.1,483.3) rotate(29.7)"><rect x="-12.2" y="-3.3" width="24.5" height="6.6" rx="3"/><rect x="-7.8" y="-1.2" width="14.5" height="1.8" fill="#d0d0d0" stroke="none"/></g><g transform="translate(1440.1,498.2) rotate(29.7)"><rect x="-12.2" y="-3.3" width="24.5" height="6.6" rx="3"/><rect x="-7.8" y="-1.2" width="14.5" height="1.8" fill="#d0d0d0" stroke="none"/></g><g transform="translate(1466.2,513.0) rotate(29.7)"><rect x="-12.2" y="-3.3" width="24.5" height="6.6" rx="3"/><rect x="-7.8" y="-1.2" width="14.5" height="1.8" fill="#d0d0d0" stroke="none"/></g><g transform="translate(1492.3,527.9) rotate(29.7)"><rect x="-12.2" y="-3.3" width="24.5" height="6.6" rx="3"/><rect x="-7.8" y="-1.2" width="14.5" height="1.8" fill="#d0d0d0" stroke="none"/></g><g transform="translate(1518.3,542.7) rotate(29.7)"><rect x="-12.2" y="-3.3" width="24.5" height="6.6" rx="3"/><rect x="-7.8" y="-1.2" width="14.5" height="1.8" fill="#d0d0d0" stroke="none"/></g><g transform="translate(1544.4,557.5) rotate(29.7)"><rect x="-12.2" y="-3.3" width="24.5" height="6.6" rx="3"/><rect x="-7.8" y="-1.2" width="14.5" height="1.8" fill="#d0d0d0" stroke="none"/></g><g transform="translate(1570.4,572.4) rotate(29.7)"><rect x="-12.2" y="-3.3" width="24.5" height="6.6" rx="3"/><rect x="-7.8" y="-1.2" width="14.5" height="1.8" fill="#d0d0d0" stroke="none"/></g><g transform="translate(1139.0,313.5) rotate(29.7)"><rect x="-12.2" y="-3.3" width="24.5" height="6.6" rx="3"/><rect x="-7.8" y="-1.2" width="14.5" height="1.8" fill="#d0d0d0" stroke="none"/></g><g transform="translate(1165.0,328.3) rotate(29.7)"><rect x="-12.2" y="-3.3" width="24.5" height="6.6" rx="3"/><rect x="-7.8" y="-1.2" width="14.5" height="1.8" fill="#d0d0d0" stroke="none"/></g><g transform="translate(1191.1,343.1) rotate(29.7)"><rect x="-12.2" y="-3.3" width="24.5" height="6.6" rx="3"/><rect x="-7.8" y="-1.2" width="14.5" height="1.8" fill="#d0d0d0" stroke="none"/></g><g transform="translate(1217.2,358.0) rotate(29.7)"><rect x="-12.2" y="-3.3" width="24.5" height="6.6" rx="3"/><rect x="-7.8" y="-1.2" width="14.5" height="1.8" fill="#d0d0d0" stroke="none"/></g><g transform="translate(1243.2,372.8) rotate(29.7)"><rect x="-12.2" y="-3.3" width="24.5" height="6.6" rx="3"/><rect x="-7.8" y="-1.2" width="14.5" height="1.8" fill="#d0d0d0" stroke="none"/></g><g transform="translate(1269.3,387.7) rotate(29.7)"><rect x="-12.2" y="-3.3" width="24.5" height="6.6" rx="3"/><rect x="-7.8" y="-1.2" width="14.5" height="1.8" fill="#d0d0d0" stroke="none"/></g><g transform="translate(1295.3,402.5) rotate(29.7)"><rect x="-12.2" y="-3.3" width="24.5" height="6.6" rx="3"/><rect x="-7.8" y="-1.2" width="14.5" height="1.8" fill="#d0d0d0" stroke="none"/></g><g transform="translate(1321.4,417.3) rotate(29.7)"><rect x="-12.2" y="-3.3" width="24.5" height="6.6" rx="3"/><rect x="-7.8" y="-1.2" width="14.5" height="1.8" fill="#d0d0d0" stroke="none"/></g><g transform="translate(1347.5,432.2) rotate(29.7)"><rect x="-12.2" y="-3.3" width="24.5" height="6.6" rx="3"/><rect x="-7.8" y="-1.2" width="14.5" height="1.8" fill="#d0d0d0" stroke="none"/></g><g transform="translate(1373.5,447.0) rotate(29.7)"><rect x="-12.2" y="-3.3" width="24.5" height="6.6" rx="3"/><rect x="-7.8" y="-1.2" width="14.5" height="1.8" fill="#d0d0d0" stroke="none"/></g><g transform="translate(1399.6,461.9) rotate(29.7)"><rect x="-12.2" y="-3.3" width="24.5" height="6.6" rx="3"/><rect x="-7.8" y="-1.2" width="14.5" height="1.8" fill="#d0d0d0" stroke="none"/></g><g transform="translate(1425.6,476.7) rotate(29.7)"><rect x="-12.2" y="-3.3" width="24.5" height="6.6" rx="3"/><rect x="-7.8" y="-1.2" width="14.5" height="1.8" fill="#d0d0d0" stroke="none"/></g><g transform="translate(1451.7,491.5) rotate(29.7)"><rect x="-12.2" y="-3.3" width="24.5" height="6.6" rx="3"/><rect x="-7.8" y="-1.2" width="14.5" height="1.8" fill="#d0d0d0" stroke="none"/></g><g transform="translate(1477.8,506.4) rotate(29.7)"><rect x="-12.2" y="-3.3" width="24.5" height="6.6" rx="3"/><rect x="-7.8" y="-1.2" width="14.5" height="1.8" fill="#d0d0d0" stroke="none"/></g><g transform="translate(1503.8,521.2) rotate(29.7)"><rect x="-12.2" y="-3.3" width="24.5" height="6.6" rx="3"/><rect x="-7.8" y="-1.2" width="14.5" height="1.8" fill="#d0d0d0" stroke="none"/></g><g transform="translate(1529.9,536.1) rotate(29.7)"><rect x="-12.2" y="-3.3" width="24.5" height="6.6" rx="3"/><rect x="-7.8" y="-1.2" width="14.5" height="1.8" fill="#d0d0d0" stroke="none"/></g><g transform="translate(1555.9,550.9) rotate(29.7)"><rect x="-12.2" y="-3.3" width="24.5" height="6.6" rx="3"/><rect x="-7.8" y="-1.2" width="14.5" height="1.8" fill="#d0d0d0" stroke="none"/></g><g transform="translate(1582.0,565.7) rotate(29.7)"><rect x="-12.2" y="-3.3" width="24.5" height="6.6" rx="3"/><rect x="-7.8" y="-1.2" width="14.5" height="1.8" fill="#d0d0d0" stroke="none"/></g><g transform="translate(1150.5,306.8) rotate(29.7)"><rect x="-12.2" y="-3.3" width="24.5" height="6.6" rx="3"/><rect x="-7.8" y="-1.2" width="14.5" height="1.8" fill="#d0d0d0" stroke="none"/></g><g transform="translate(1176.6,321.7) rotate(29.7)"><rect x="-12.2" y="-3.3" width="24.5" height="6.6" rx="3"/><rect x="-7.8" y="-1.2" width="14.5" height="1.8" fill="#d0d0d0" stroke="none"/></g><g transform="translate(1202.7,336.5) rotate(29.7)"><rect x="-12.2" y="-3.3" width="24.5" height="6.6" rx="3"/><rect x="-7.8" y="-1.2" width="14.5" height="1.8" fill="#d0d0d0" stroke="none"/></g><g transform="translate(1228.7,351.3) rotate(29.7)"><rect x="-12.2" y="-3.3" width="24.5" height="6.6" rx="3"/><rect x="-7.8" y="-1.2" width="14.5" height="1.8" fill="#d0d0d0" stroke="none"/></g><g transform="translate(1254.8,366.2) rotate(29.7)"><rect x="-12.2" y="-3.3" width="24.5" height="6.6" rx="3"/><rect x="-7.8" y="-1.2" width="14.5" height="1.8" fill="#d0d0d0" stroke="none"/></g><g transform="translate(1280.8,381.0) rotate(29.7)"><rect x="-12.2" y="-3.3" width="24.5" height="6.6" rx="3"/><rect x="-7.8" y="-1.2" width="14.5" height="1.8" fill="#d0d0d0" stroke="none"/></g><g transform="translate(1306.9,395.9) rotate(29.7)"><rect x="-12.2" y="-3.3" width="24.5" height="6.6" rx="3"/><rect x="-7.8" y="-1.2" width="14.5" height="1.8" fill="#d0d0d0" stroke="none"/></g><g transform="translate(1333.0,410.7) rotate(29.7)"><rect x="-12.2" y="-3.3" width="24.5" height="6.6" rx="3"/><rect x="-7.8" y="-1.2" width="14.5" height="1.8" fill="#d0d0d0" stroke="none"/></g><g transform="translate(1359.0,425.5) rotate(29.7)"><rect x="-12.2" y="-3.3" width="24.5" height="6.6" rx="3"/><rect x="-7.8" y="-1.2" width="14.5" height="1.8" fill="#d0d0d0" stroke="none"/></g><g transform="translate(1385.1,440.4) rotate(29.7)"><rect x="-12.2" y="-3.3" width="24.5" height="6.6" rx="3"/><rect x="-7.8" y="-1.2" width="14.5" height="1.8" fill="#d0d0d0" stroke="none"/></g><g transform="translate(1411.1,455.2) rotate(29.7)"><rect x="-12.2" y="-3.3" width="24.5" height="6.6" rx="3"/><rect x="-7.8" y="-1.2" width="14.5" height="1.8" fill="#d0d0d0" stroke="none"/></g><g transform="translate(1437.2,470.1) rotate(29.7)"><rect x="-12.2" y="-3.3" width="24.5" height="6.6" rx="3"/><rect x="-7.8" y="-1.2" width="14.5" height="1.8" fill="#d0d0d0" stroke="none"/></g><g transform="translate(1463.3,484.9) rotate(29.7)"><rect x="-12.2" y="-3.3" width="24.5" height="6.6" rx="3"/><rect x="-7.8" y="-1.2" width="14.5" height="1.8" fill="#d0d0d0" stroke="none"/></g><g transform="translate(1489.3,499.8) rotate(29.7)"><rect x="-12.2" y="-3.3" width="24.5" height="6.6" rx="3"/><rect x="-7.8" y="-1.2" width="14.5" height="1.8" fill="#d0d0d0" stroke="none"/></g><g transform="translate(1515.4,514.6) rotate(29.7)"><rect x="-12.2" y="-3.3" width="24.5" height="6.6" rx="3"/><rect x="-7.8" y="-1.2" width="14.5" height="1.8" fill="#d0d0d0" stroke="none"/></g><g transform="translate(1541.4,529.4) rotate(29.7)"><rect x="-12.2" y="-3.3" width="24.5" height="6.6" rx="3"/><rect x="-7.8" y="-1.2" width="14.5" height="1.8" fill="#d0d0d0" stroke="none"/></g><g transform="translate(1567.5,544.3) rotate(29.7)"><rect x="-12.2" y="-3.3" width="24.5" height="6.6" rx="3"/><rect x="-7.8" y="-1.2" width="14.5" height="1.8" fill="#d0d0d0" stroke="none"/></g><g transform="translate(1593.6,559.1) rotate(29.7)"><rect x="-12.2" y="-3.3" width="24.5" height="6.6" rx="3"/><rect x="-7.8" y="-1.2" width="14.5" height="1.8" fill="#d0d0d0" stroke="none"/></g><g transform="translate(1162.1,300.2) rotate(29.7)"><rect x="-12.2" y="-3.3" width="24.5" height="6.6" rx="3"/><rect x="-7.8" y="-1.2" width="14.5" height="1.8" fill="#d0d0d0" stroke="none"/></g><g transform="translate(1188.2,315.0) rotate(29.7)"><rect x="-12.2" y="-3.3" width="24.5" height="6.6" rx="3"/><rect x="-7.8" y="-1.2" width="14.5" height="1.8" fill="#d0d0d0" stroke="none"/></g><g transform="translate(1214.2,329.9) rotate(29.7)"><rect x="-12.2" y="-3.3" width="24.5" height="6.6" rx="3"/><rect x="-7.8" y="-1.2" width="14.5" height="1.8" fill="#d0d0d0" stroke="none"/></g><g transform="translate(1240.3,344.7) rotate(29.7)"><rect x="-12.2" y="-3.3" width="24.5" height="6.6" rx="3"/><rect x="-7.8" y="-1.2" width="14.5" height="1.8" fill="#d0d0d0" stroke="none"/></g><g transform="translate(1266.3,359.6) rotate(29.7)"><rect x="-12.2" y="-3.3" width="24.5" height="6.6" rx="3"/><rect x="-7.8" y="-1.2" width="14.5" height="1.8" fill="#d0d0d0" stroke="none"/></g><g transform="translate(1292.4,374.4) rotate(29.7)"><rect x="-12.2" y="-3.3" width="24.5" height="6.6" rx="3"/><rect x="-7.8" y="-1.2" width="14.5" height="1.8" fill="#d0d0d0" stroke="none"/></g><g transform="translate(1318.5,389.2) rotate(29.7)"><rect x="-12.2" y="-3.3" width="24.5" height="6.6" rx="3"/><rect x="-7.8" y="-1.2" width="14.5" height="1.8" fill="#d0d0d0" stroke="none"/></g><g transform="translate(1344.5,404.1) rotate(29.7)"><rect x="-12.2" y="-3.3" width="24.5" height="6.6" rx="3"/><rect x="-7.8" y="-1.2" width="14.5" height="1.8" fill="#d0d0d0" stroke="none"/></g><g transform="translate(1370.6,418.9) rotate(29.7)"><rect x="-12.2" y="-3.3" width="24.5" height="6.6" rx="3"/><rect x="-7.8" y="-1.2" width="14.5" height="1.8" fill="#d0d0d0" stroke="none"/></g><g transform="translate(1396.6,433.8) rotate(29.7)"><rect x="-12.2" y="-3.3" width="24.5" height="6.6" rx="3"/><rect x="-7.8" y="-1.2" width="14.5" height="1.8" fill="#d0d0d0" stroke="none"/></g><g transform="translate(1422.7,448.6) rotate(29.7)"><rect x="-12.2" y="-3.3" width="24.5" height="6.6" rx="3"/><rect x="-7.8" y="-1.2" width="14.5" height="1.8" fill="#d0d0d0" stroke="none"/></g><g transform="translate(1448.8,463.4) rotate(29.7)"><rect x="-12.2" y="-3.3" width="24.5" height="6.6" rx="3"/><rect x="-7.8" y="-1.2" width="14.5" height="1.8" fill="#d0d0d0" stroke="none"/></g><g transform="translate(1474.8,478.3) rotate(29.7)"><rect x="-12.2" y="-3.3" width="24.5" height="6.6" rx="3"/><rect x="-7.8" y="-1.2" width="14.5" height="1.8" fill="#d0d0d0" stroke="none"/></g><g transform="translate(1500.9,493.1) rotate(29.7)"><rect x="-12.2" y="-3.3" width="24.5" height="6.6" rx="3"/><rect x="-7.8" y="-1.2" width="14.5" height="1.8" fill="#d0d0d0" stroke="none"/></g><g transform="translate(1526.9,508.0) rotate(29.7)"><rect x="-12.2" y="-3.3" width="24.5" height="6.6" rx="3"/><rect x="-7.8" y="-1.2" width="14.5" height="1.8" fill="#d0d0d0" stroke="none"/></g><g transform="translate(1553.0,522.8) rotate(29.7)"><rect x="-12.2" y="-3.3" width="24.5" height="6.6" rx="3"/><rect x="-7.8" y="-1.2" width="14.5" height="1.8" fill="#d0d0d0" stroke="none"/></g><g transform="translate(1579.1,537.6) rotate(29.7)"><rect x="-12.2" y="-3.3" width="24.5" height="6.6" rx="3"/><rect x="-7.8" y="-1.2" width="14.5" height="1.8" fill="#d0d0d0" stroke="none"/></g><g transform="translate(1605.1,552.5) rotate(29.7)"><rect x="-12.2" y="-3.3" width="24.5" height="6.6" rx="3"/><rect x="-7.8" y="-1.2" width="14.5" height="1.8" fill="#d0d0d0" stroke="none"/></g><g transform="translate(1173.7,293.6) rotate(29.7)"><rect x="-12.2" y="-3.3" width="24.5" height="6.6" rx="3"/><rect x="-7.8" y="-1.2" width="14.5" height="1.8" fill="#d0d0d0" stroke="none"/></g><g transform="translate(1199.7,308.4) rotate(29.7)"><rect x="-12.2" y="-3.3" width="24.5" height="6.6" rx="3"/><rect x="-7.8" y="-1.2" width="14.5" height="1.8" fill="#d0d0d0" stroke="none"/></g><g transform="translate(1225.8,323.2) rotate(29.7)"><rect x="-12.2" y="-3.3" width="24.5" height="6.6" rx="3"/><rect x="-7.8" y="-1.2" width="14.5" height="1.8" fill="#d0d0d0" stroke="none"/></g><g transform="translate(1251.8,338.1) rotate(29.7)"><rect x="-12.2" y="-3.3" width="24.5" height="6.6" rx="3"/><rect x="-7.8" y="-1.2" width="14.5" height="1.8" fill="#d0d0d0" stroke="none"/></g><g transform="translate(1277.9,352.9) rotate(29.7)"><rect x="-12.2" y="-3.3" width="24.5" height="6.6" rx="3"/><rect x="-7.8" y="-1.2" width="14.5" height="1.8" fill="#d0d0d0" stroke="none"/></g><g transform="translate(1304.0,367.8) rotate(29.7)"><rect x="-12.2" y="-3.3" width="24.5" height="6.6" rx="3"/><rect x="-7.8" y="-1.2" width="14.5" height="1.8" fill="#d0d0d0" stroke="none"/></g><g transform="translate(1330.0,382.6) rotate(29.7)"><rect x="-12.2" y="-3.3" width="24.5" height="6.6" rx="3"/><rect x="-7.8" y="-1.2" width="14.5" height="1.8" fill="#d0d0d0" stroke="none"/></g><g transform="translate(1356.1,397.4) rotate(29.7)"><rect x="-12.2" y="-3.3" width="24.5" height="6.6" rx="3"/><rect x="-7.8" y="-1.2" width="14.5" height="1.8" fill="#d0d0d0" stroke="none"/></g><g transform="translate(1382.1,412.3) rotate(29.7)"><rect x="-12.2" y="-3.3" width="24.5" height="6.6" rx="3"/><rect x="-7.8" y="-1.2" width="14.5" height="1.8" fill="#d0d0d0" stroke="none"/></g><g transform="translate(1408.2,427.1) rotate(29.7)"><rect x="-12.2" y="-3.3" width="24.5" height="6.6" rx="3"/><rect x="-7.8" y="-1.2" width="14.5" height="1.8" fill="#d0d0d0" stroke="none"/></g><g transform="translate(1434.3,442.0) rotate(29.7)"><rect x="-12.2" y="-3.3" width="24.5" height="6.6" rx="3"/><rect x="-7.8" y="-1.2" width="14.5" height="1.8" fill="#d0d0d0" stroke="none"/></g><g transform="translate(1460.3,456.8) rotate(29.7)"><rect x="-12.2" y="-3.3" width="24.5" height="6.6" rx="3"/><rect x="-7.8" y="-1.2" width="14.5" height="1.8" fill="#d0d0d0" stroke="none"/></g><g transform="translate(1486.4,471.6) rotate(29.7)"><rect x="-12.2" y="-3.3" width="24.5" height="6.6" rx="3"/><rect x="-7.8" y="-1.2" width="14.5" height="1.8" fill="#d0d0d0" stroke="none"/></g><g transform="translate(1512.4,486.5) rotate(29.7)"><rect x="-12.2" y="-3.3" width="24.5" height="6.6" rx="3"/><rect x="-7.8" y="-1.2" width="14.5" height="1.8" fill="#d0d0d0" stroke="none"/></g><g transform="translate(1538.5,501.3) rotate(29.7)"><rect x="-12.2" y="-3.3" width="24.5" height="6.6" rx="3"/><rect x="-7.8" y="-1.2" width="14.5" height="1.8" fill="#d0d0d0" stroke="none"/></g><g transform="translate(1564.6,516.2) rotate(29.7)"><rect x="-12.2" y="-3.3" width="24.5" height="6.6" rx="3"/><rect x="-7.8" y="-1.2" width="14.5" height="1.8" fill="#d0d0d0" stroke="none"/></g><g transform="translate(1590.6,531.0) rotate(29.7)"><rect x="-12.2" y="-3.3" width="24.5" height="6.6" rx="3"/><rect x="-7.8" y="-1.2" width="14.5" height="1.8" fill="#d0d0d0" stroke="none"/></g><g transform="translate(1616.7,545.9) rotate(29.7)"><rect x="-12.2" y="-3.3" width="24.5" height="6.6" rx="3"/><rect x="-7.8" y="-1.2" width="14.5" height="1.8" fill="#d0d0d0" stroke="none"/></g><g transform="translate(1185.2,286.9) rotate(29.7)"><rect x="-12.2" y="-3.3" width="24.5" height="6.6" rx="3"/><rect x="-7.8" y="-1.2" width="14.5" height="1.8" fill="#d0d0d0" stroke="none"/></g><g transform="translate(1211.3,301.8) rotate(29.7)"><rect x="-12.2" y="-3.3" width="24.5" height="6.6" rx="3"/><rect x="-7.8" y="-1.2" width="14.5" height="1.8" fill="#d0d0d0" stroke="none"/></g><g transform="translate(1237.3,316.6) rotate(29.7)"><rect x="-12.2" y="-3.3" width="24.5" height="6.6" rx="3"/><rect x="-7.8" y="-1.2" width="14.5" height="1.8" fill="#d0d0d0" stroke="none"/></g><g transform="translate(1263.4,331.5) rotate(29.7)"><rect x="-12.2" y="-3.3" width="24.5" height="6.6" rx="3"/><rect x="-7.8" y="-1.2" width="14.5" height="1.8" fill="#d0d0d0" stroke="none"/></g><g transform="translate(1289.5,346.3) rotate(29.7)"><rect x="-12.2" y="-3.3" width="24.5" height="6.6" rx="3"/><rect x="-7.8" y="-1.2" width="14.5" height="1.8" fill="#d0d0d0" stroke="none"/></g><g transform="translate(1315.5,361.1) rotate(29.7)"><rect x="-12.2" y="-3.3" width="24.5" height="6.6" rx="3"/><rect x="-7.8" y="-1.2" width="14.5" height="1.8" fill="#d0d0d0" stroke="none"/></g><g transform="translate(1341.6,376.0) rotate(29.7)"><rect x="-12.2" y="-3.3" width="24.5" height="6.6" rx="3"/><rect x="-7.8" y="-1.2" width="14.5" height="1.8" fill="#d0d0d0" stroke="none"/></g><g transform="translate(1367.6,390.8) rotate(29.7)"><rect x="-12.2" y="-3.3" width="24.5" height="6.6" rx="3"/><rect x="-7.8" y="-1.2" width="14.5" height="1.8" fill="#d0d0d0" stroke="none"/></g><g transform="translate(1393.7,405.7) rotate(29.7)"><rect x="-12.2" y="-3.3" width="24.5" height="6.6" rx="3"/><rect x="-7.8" y="-1.2" width="14.5" height="1.8" fill="#d0d0d0" stroke="none"/></g><g transform="translate(1419.8,420.5) rotate(29.7)"><rect x="-12.2" y="-3.3" width="24.5" height="6.6" rx="3"/><rect x="-7.8" y="-1.2" width="14.5" height="1.8" fill="#d0d0d0" stroke="none"/></g><g transform="translate(1445.8,435.3) rotate(29.7)"><rect x="-12.2" y="-3.3" width="24.5" height="6.6" rx="3"/><rect x="-7.8" y="-1.2" width="14.5" height="1.8" fill="#d0d0d0" stroke="none"/></g><g transform="translate(1471.9,450.2) rotate(29.7)"><rect x="-12.2" y="-3.3" width="24.5" height="6.6" rx="3"/><rect x="-7.8" y="-1.2" width="14.5" height="1.8" fill="#d0d0d0" stroke="none"/></g><g transform="translate(1497.9,465.0) rotate(29.7)"><rect x="-12.2" y="-3.3" width="24.5" height="6.6" rx="3"/><rect x="-7.8" y="-1.2" width="14.5" height="1.8" fill="#d0d0d0" stroke="none"/></g><g transform="translate(1524.0,479.9) rotate(29.7)"><rect x="-12.2" y="-3.3" width="24.5" height="6.6" rx="3"/><rect x="-7.8" y="-1.2" width="14.5" height="1.8" fill="#d0d0d0" stroke="none"/></g><g transform="translate(1550.1,494.7) rotate(29.7)"><rect x="-12.2" y="-3.3" width="24.5" height="6.6" rx="3"/><rect x="-7.8" y="-1.2" width="14.5" height="1.8" fill="#d0d0d0" stroke="none"/></g><g transform="translate(1576.1,509.5) rotate(29.7)"><rect x="-12.2" y="-3.3" width="24.5" height="6.6" rx="3"/><rect x="-7.8" y="-1.2" width="14.5" height="1.8" fill="#d0d0d0" stroke="none"/></g><g transform="translate(1602.2,524.4) rotate(29.7)"><rect x="-12.2" y="-3.3" width="24.5" height="6.6" rx="3"/><rect x="-7.8" y="-1.2" width="14.5" height="1.8" fill="#d0d0d0" stroke="none"/></g><g transform="translate(1628.2,539.2) rotate(29.7)"><rect x="-12.2" y="-3.3" width="24.5" height="6.6" rx="3"/><rect x="-7.8" y="-1.2" width="14.5" height="1.8" fill="#d0d0d0" stroke="none"/></g><g transform="translate(1196.8,280.3) rotate(29.7)"><rect x="-12.2" y="-3.3" width="24.5" height="6.6" rx="3"/><rect x="-7.8" y="-1.2" width="14.5" height="1.8" fill="#d0d0d0" stroke="none"/></g><g transform="translate(1222.8,295.1) rotate(29.7)"><rect x="-12.2" y="-3.3" width="24.5" height="6.6" rx="3"/><rect x="-7.8" y="-1.2" width="14.5" height="1.8" fill="#d0d0d0" stroke="none"/></g><g transform="translate(1248.9,310.0) rotate(29.7)"><rect x="-12.2" y="-3.3" width="24.5" height="6.6" rx="3"/><rect x="-7.8" y="-1.2" width="14.5" height="1.8" fill="#d0d0d0" stroke="none"/></g><g transform="translate(1275.0,324.8) rotate(29.7)"><rect x="-12.2" y="-3.3" width="24.5" height="6.6" rx="3"/><rect x="-7.8" y="-1.2" width="14.5" height="1.8" fill="#d0d0d0" stroke="none"/></g><g transform="translate(1301.0,339.7) rotate(29.7)"><rect x="-12.2" y="-3.3" width="24.5" height="6.6" rx="3"/><rect x="-7.8" y="-1.2" width="14.5" height="1.8" fill="#d0d0d0" stroke="none"/></g><g transform="translate(1327.1,354.5) rotate(29.7)"><rect x="-12.2" y="-3.3" width="24.5" height="6.6" rx="3"/><rect x="-7.8" y="-1.2" width="14.5" height="1.8" fill="#d0d0d0" stroke="none"/></g><g transform="translate(1353.1,369.4) rotate(29.7)"><rect x="-12.2" y="-3.3" width="24.5" height="6.6" rx="3"/><rect x="-7.8" y="-1.2" width="14.5" height="1.8" fill="#d0d0d0" stroke="none"/></g><g transform="translate(1379.2,384.2) rotate(29.7)"><rect x="-12.2" y="-3.3" width="24.5" height="6.6" rx="3"/><rect x="-7.8" y="-1.2" width="14.5" height="1.8" fill="#d0d0d0" stroke="none"/></g><g transform="translate(1405.3,399.0) rotate(29.7)"><rect x="-12.2" y="-3.3" width="24.5" height="6.6" rx="3"/><rect x="-7.8" y="-1.2" width="14.5" height="1.8" fill="#d0d0d0" stroke="none"/></g><g transform="translate(1431.3,413.9) rotate(29.7)"><rect x="-12.2" y="-3.3" width="24.5" height="6.6" rx="3"/><rect x="-7.8" y="-1.2" width="14.5" height="1.8" fill="#d0d0d0" stroke="none"/></g><g transform="translate(1457.4,428.7) rotate(29.7)"><rect x="-12.2" y="-3.3" width="24.5" height="6.6" rx="3"/><rect x="-7.8" y="-1.2" width="14.5" height="1.8" fill="#d0d0d0" stroke="none"/></g><g transform="translate(1483.4,443.6) rotate(29.7)"><rect x="-12.2" y="-3.3" width="24.5" height="6.6" rx="3"/><rect x="-7.8" y="-1.2" width="14.5" height="1.8" fill="#d0d0d0" stroke="none"/></g><g transform="translate(1509.5,458.4) rotate(29.7)"><rect x="-12.2" y="-3.3" width="24.5" height="6.6" rx="3"/><rect x="-7.8" y="-1.2" width="14.5" height="1.8" fill="#d0d0d0" stroke="none"/></g><g transform="translate(1535.6,473.2) rotate(29.7)"><rect x="-12.2" y="-3.3" width="24.5" height="6.6" rx="3"/><rect x="-7.8" y="-1.2" width="14.5" height="1.8" fill="#d0d0d0" stroke="none"/></g><g transform="translate(1561.6,488.1) rotate(29.7)"><rect x="-12.2" y="-3.3" width="24.5" height="6.6" rx="3"/><rect x="-7.8" y="-1.2" width="14.5" height="1.8" fill="#d0d0d0" stroke="none"/></g><g transform="translate(1587.7,502.9) rotate(29.7)"><rect x="-12.2" y="-3.3" width="24.5" height="6.6" rx="3"/><rect x="-7.8" y="-1.2" width="14.5" height="1.8" fill="#d0d0d0" stroke="none"/></g><g transform="translate(1613.7,517.8) rotate(29.7)"><rect x="-12.2" y="-3.3" width="24.5" height="6.6" rx="3"/><rect x="-7.8" y="-1.2" width="14.5" height="1.8" fill="#d0d0d0" stroke="none"/></g><g transform="translate(1639.8,532.6) rotate(29.7)"><rect x="-12.2" y="-3.3" width="24.5" height="6.6" rx="3"/><rect x="-7.8" y="-1.2" width="14.5" height="1.8" fill="#d0d0d0" stroke="none"/></g><g transform="translate(1208.3,273.7) rotate(29.7)"><rect x="-12.2" y="-3.3" width="24.5" height="6.6" rx="3"/><rect x="-7.8" y="-1.2" width="14.5" height="1.8" fill="#d0d0d0" stroke="none"/></g><g transform="translate(1234.4,288.5) rotate(29.7)"><rect x="-12.2" y="-3.3" width="24.5" height="6.6" rx="3"/><rect x="-7.8" y="-1.2" width="14.5" height="1.8" fill="#d0d0d0" stroke="none"/></g><g transform="translate(1260.5,303.4) rotate(29.7)"><rect x="-12.2" y="-3.3" width="24.5" height="6.6" rx="3"/><rect x="-7.8" y="-1.2" width="14.5" height="1.8" fill="#d0d0d0" stroke="none"/></g><g transform="translate(1286.5,318.2) rotate(29.7)"><rect x="-12.2" y="-3.3" width="24.5" height="6.6" rx="3"/><rect x="-7.8" y="-1.2" width="14.5" height="1.8" fill="#d0d0d0" stroke="none"/></g><g transform="translate(1312.6,333.0) rotate(29.7)"><rect x="-12.2" y="-3.3" width="24.5" height="6.6" rx="3"/><rect x="-7.8" y="-1.2" width="14.5" height="1.8" fill="#d0d0d0" stroke="none"/></g><g transform="translate(1338.6,347.9) rotate(29.7)"><rect x="-12.2" y="-3.3" width="24.5" height="6.6" rx="3"/><rect x="-7.8" y="-1.2" width="14.5" height="1.8" fill="#d0d0d0" stroke="none"/></g><g transform="translate(1364.7,362.7) rotate(29.7)"><rect x="-12.2" y="-3.3" width="24.5" height="6.6" rx="3"/><rect x="-7.8" y="-1.2" width="14.5" height="1.8" fill="#d0d0d0" stroke="none"/></g><g transform="translate(1390.8,377.6) rotate(29.7)"><rect x="-12.2" y="-3.3" width="24.5" height="6.6" rx="3"/><rect x="-7.8" y="-1.2" width="14.5" height="1.8" fill="#d0d0d0" stroke="none"/></g><g transform="translate(1416.8,392.4) rotate(29.7)"><rect x="-12.2" y="-3.3" width="24.5" height="6.6" rx="3"/><rect x="-7.8" y="-1.2" width="14.5" height="1.8" fill="#d0d0d0" stroke="none"/></g><g transform="translate(1442.9,407.2) rotate(29.7)"><rect x="-12.2" y="-3.3" width="24.5" height="6.6" rx="3"/><rect x="-7.8" y="-1.2" width="14.5" height="1.8" fill="#d0d0d0" stroke="none"/></g><g transform="translate(1468.9,422.1) rotate(29.7)"><rect x="-12.2" y="-3.3" width="24.5" height="6.6" rx="3"/><rect x="-7.8" y="-1.2" width="14.5" height="1.8" fill="#d0d0d0" stroke="none"/></g><g transform="translate(1495.0,436.9) rotate(29.7)"><rect x="-12.2" y="-3.3" width="24.5" height="6.6" rx="3"/><rect x="-7.8" y="-1.2" width="14.5" height="1.8" fill="#d0d0d0" stroke="none"/></g><g transform="translate(1521.1,451.8) rotate(29.7)"><rect x="-12.2" y="-3.3" width="24.5" height="6.6" rx="3"/><rect x="-7.8" y="-1.2" width="14.5" height="1.8" fill="#d0d0d0" stroke="none"/></g><g transform="translate(1547.1,466.6) rotate(29.7)"><rect x="-12.2" y="-3.3" width="24.5" height="6.6" rx="3"/><rect x="-7.8" y="-1.2" width="14.5" height="1.8" fill="#d0d0d0" stroke="none"/></g><g transform="translate(1573.2,481.4) rotate(29.7)"><rect x="-12.2" y="-3.3" width="24.5" height="6.6" rx="3"/><rect x="-7.8" y="-1.2" width="14.5" height="1.8" fill="#d0d0d0" stroke="none"/></g><g transform="translate(1599.2,496.3) rotate(29.7)"><rect x="-12.2" y="-3.3" width="24.5" height="6.6" rx="3"/><rect x="-7.8" y="-1.2" width="14.5" height="1.8" fill="#d0d0d0" stroke="none"/></g><g transform="translate(1625.3,511.1) rotate(29.7)"><rect x="-12.2" y="-3.3" width="24.5" height="6.6" rx="3"/><rect x="-7.8" y="-1.2" width="14.5" height="1.8" fill="#d0d0d0" stroke="none"/></g><g transform="translate(1651.4,526.0) rotate(29.7)"><rect x="-12.2" y="-3.3" width="24.5" height="6.6" rx="3"/><rect x="-7.8" y="-1.2" width="14.5" height="1.8" fill="#d0d0d0" stroke="none"/></g><g transform="translate(1219.9,267.1) rotate(29.7)"><rect x="-12.2" y="-3.3" width="24.5" height="6.6" rx="3"/><rect x="-7.8" y="-1.2" width="14.5" height="1.8" fill="#d0d0d0" stroke="none"/></g><g transform="translate(1246.0,281.9) rotate(29.7)"><rect x="-12.2" y="-3.3" width="24.5" height="6.6" rx="3"/><rect x="-7.8" y="-1.2" width="14.5" height="1.8" fill="#d0d0d0" stroke="none"/></g><g transform="translate(1272.0,296.7) rotate(29.7)"><rect x="-12.2" y="-3.3" width="24.5" height="6.6" rx="3"/><rect x="-7.8" y="-1.2" width="14.5" height="1.8" fill="#d0d0d0" stroke="none"/></g><g transform="translate(1298.1,311.6) rotate(29.7)"><rect x="-12.2" y="-3.3" width="24.5" height="6.6" rx="3"/><rect x="-7.8" y="-1.2" width="14.5" height="1.8" fill="#d0d0d0" stroke="none"/></g><g transform="translate(1324.1,326.4) rotate(29.7)"><rect x="-12.2" y="-3.3" width="24.5" height="6.6" rx="3"/><rect x="-7.8" y="-1.2" width="14.5" height="1.8" fill="#d0d0d0" stroke="none"/></g><g transform="translate(1350.2,341.2) rotate(29.7)"><rect x="-12.2" y="-3.3" width="24.5" height="6.6" rx="3"/><rect x="-7.8" y="-1.2" width="14.5" height="1.8" fill="#d0d0d0" stroke="none"/></g><g transform="translate(1376.3,356.1) rotate(29.7)"><rect x="-12.2" y="-3.3" width="24.5" height="6.6" rx="3"/><rect x="-7.8" y="-1.2" width="14.5" height="1.8" fill="#d0d0d0" stroke="none"/></g><g transform="translate(1402.3,370.9) rotate(29.7)"><rect x="-12.2" y="-3.3" width="24.5" height="6.6" rx="3"/><rect x="-7.8" y="-1.2" width="14.5" height="1.8" fill="#d0d0d0" stroke="none"/></g><g transform="translate(1428.4,385.8) rotate(29.7)"><rect x="-12.2" y="-3.3" width="24.5" height="6.6" rx="3"/><rect x="-7.8" y="-1.2" width="14.5" height="1.8" fill="#d0d0d0" stroke="none"/></g><g transform="translate(1454.4,400.6) rotate(29.7)"><rect x="-12.2" y="-3.3" width="24.5" height="6.6" rx="3"/><rect x="-7.8" y="-1.2" width="14.5" height="1.8" fill="#d0d0d0" stroke="none"/></g><g transform="translate(1480.5,415.5) rotate(29.7)"><rect x="-12.2" y="-3.3" width="24.5" height="6.6" rx="3"/><rect x="-7.8" y="-1.2" width="14.5" height="1.8" fill="#d0d0d0" stroke="none"/></g><g transform="translate(1506.6,430.3) rotate(29.7)"><rect x="-12.2" y="-3.3" width="24.5" height="6.6" rx="3"/><rect x="-7.8" y="-1.2" width="14.5" height="1.8" fill="#d0d0d0" stroke="none"/></g><g transform="translate(1532.6,445.1) rotate(29.7)"><rect x="-12.2" y="-3.3" width="24.5" height="6.6" rx="3"/><rect x="-7.8" y="-1.2" width="14.5" height="1.8" fill="#d0d0d0" stroke="none"/></g><g transform="translate(1558.7,460.0) rotate(29.7)"><rect x="-12.2" y="-3.3" width="24.5" height="6.6" rx="3"/><rect x="-7.8" y="-1.2" width="14.5" height="1.8" fill="#d0d0d0" stroke="none"/></g><g transform="translate(1584.7,474.8) rotate(29.7)"><rect x="-12.2" y="-3.3" width="24.5" height="6.6" rx="3"/><rect x="-7.8" y="-1.2" width="14.5" height="1.8" fill="#d0d0d0" stroke="none"/></g><g transform="translate(1610.8,489.6) rotate(29.7)"><rect x="-12.2" y="-3.3" width="24.5" height="6.6" rx="3"/><rect x="-7.8" y="-1.2" width="14.5" height="1.8" fill="#d0d0d0" stroke="none"/></g><g transform="translate(1636.9,504.5) rotate(29.7)"><rect x="-12.2" y="-3.3" width="24.5" height="6.6" rx="3"/><rect x="-7.8" y="-1.2" width="14.5" height="1.8" fill="#d0d0d0" stroke="none"/></g><g transform="translate(1662.9,519.3) rotate(29.7)"><rect x="-12.2" y="-3.3" width="24.5" height="6.6" rx="3"/><rect x="-7.8" y="-1.2" width="14.5" height="1.8" fill="#d0d0d0" stroke="none"/></g><g transform="translate(1231.5,260.4) rotate(29.7)"><rect x="-12.2" y="-3.3" width="24.5" height="6.6" rx="3"/><rect x="-7.8" y="-1.2" width="14.5" height="1.8" fill="#d0d0d0" stroke="none"/></g><g transform="translate(1257.5,275.3) rotate(29.7)"><rect x="-12.2" y="-3.3" width="24.5" height="6.6" rx="3"/><rect x="-7.8" y="-1.2" width="14.5" height="1.8" fill="#d0d0d0" stroke="none"/></g><g transform="translate(1283.6,290.1) rotate(29.7)"><rect x="-12.2" y="-3.3" width="24.5" height="6.6" rx="3"/><rect x="-7.8" y="-1.2" width="14.5" height="1.8" fill="#d0d0d0" stroke="none"/></g><g transform="translate(1309.6,304.9) rotate(29.7)"><rect x="-12.2" y="-3.3" width="24.5" height="6.6" rx="3"/><rect x="-7.8" y="-1.2" width="14.5" height="1.8" fill="#d0d0d0" stroke="none"/></g><g transform="translate(1335.7,319.8) rotate(29.7)"><rect x="-12.2" y="-3.3" width="24.5" height="6.6" rx="3"/><rect x="-7.8" y="-1.2" width="14.5" height="1.8" fill="#d0d0d0" stroke="none"/></g><g transform="translate(1361.8,334.6) rotate(29.7)"><rect x="-12.2" y="-3.3" width="24.5" height="6.6" rx="3"/><rect x="-7.8" y="-1.2" width="14.5" height="1.8" fill="#d0d0d0" stroke="none"/></g><g transform="translate(1387.8,349.5) rotate(29.7)"><rect x="-12.2" y="-3.3" width="24.5" height="6.6" rx="3"/><rect x="-7.8" y="-1.2" width="14.5" height="1.8" fill="#d0d0d0" stroke="none"/></g><g transform="translate(1413.9,364.3) rotate(29.7)"><rect x="-12.2" y="-3.3" width="24.5" height="6.6" rx="3"/><rect x="-7.8" y="-1.2" width="14.5" height="1.8" fill="#d0d0d0" stroke="none"/></g><g transform="translate(1439.9,379.1) rotate(29.7)"><rect x="-12.2" y="-3.3" width="24.5" height="6.6" rx="3"/><rect x="-7.8" y="-1.2" width="14.5" height="1.8" fill="#d0d0d0" stroke="none"/></g><g transform="translate(1466.0,394.0) rotate(29.7)"><rect x="-12.2" y="-3.3" width="24.5" height="6.6" rx="3"/><rect x="-7.8" y="-1.2" width="14.5" height="1.8" fill="#d0d0d0" stroke="none"/></g><g transform="translate(1492.1,408.8) rotate(29.7)"><rect x="-12.2" y="-3.3" width="24.5" height="6.6" rx="3"/><rect x="-7.8" y="-1.2" width="14.5" height="1.8" fill="#d0d0d0" stroke="none"/></g><g transform="translate(1518.1,423.7) rotate(29.7)"><rect x="-12.2" y="-3.3" width="24.5" height="6.6" rx="3"/><rect x="-7.8" y="-1.2" width="14.5" height="1.8" fill="#d0d0d0" stroke="none"/></g><g transform="translate(1544.2,438.5) rotate(29.7)"><rect x="-12.2" y="-3.3" width="24.5" height="6.6" rx="3"/><rect x="-7.8" y="-1.2" width="14.5" height="1.8" fill="#d0d0d0" stroke="none"/></g><g transform="translate(1570.2,453.3) rotate(29.7)"><rect x="-12.2" y="-3.3" width="24.5" height="6.6" rx="3"/><rect x="-7.8" y="-1.2" width="14.5" height="1.8" fill="#d0d0d0" stroke="none"/></g><g transform="translate(1596.3,468.2) rotate(29.7)"><rect x="-12.2" y="-3.3" width="24.5" height="6.6" rx="3"/><rect x="-7.8" y="-1.2" width="14.5" height="1.8" fill="#d0d0d0" stroke="none"/></g><g transform="translate(1622.4,483.0) rotate(29.7)"><rect x="-12.2" y="-3.3" width="24.5" height="6.6" rx="3"/><rect x="-7.8" y="-1.2" width="14.5" height="1.8" fill="#d0d0d0" stroke="none"/></g><g transform="translate(1648.4,497.9) rotate(29.7)"><rect x="-12.2" y="-3.3" width="24.5" height="6.6" rx="3"/><rect x="-7.8" y="-1.2" width="14.5" height="1.8" fill="#d0d0d0" stroke="none"/></g><g transform="translate(1674.5,512.7) rotate(29.7)"><rect x="-12.2" y="-3.3" width="24.5" height="6.6" rx="3"/><rect x="-7.8" y="-1.2" width="14.5" height="1.8" fill="#d0d0d0" stroke="none"/></g><g transform="translate(1243.0,253.8) rotate(29.7)"><rect x="-12.2" y="-3.3" width="24.5" height="6.6" rx="3"/><rect x="-7.8" y="-1.2" width="14.5" height="1.8" fill="#d0d0d0" stroke="none"/></g><g transform="translate(1269.1,268.6) rotate(29.7)"><rect x="-12.2" y="-3.3" width="24.5" height="6.6" rx="3"/><rect x="-7.8" y="-1.2" width="14.5" height="1.8" fill="#d0d0d0" stroke="none"/></g><g transform="translate(1295.1,283.5) rotate(29.7)"><rect x="-12.2" y="-3.3" width="24.5" height="6.6" rx="3"/><rect x="-7.8" y="-1.2" width="14.5" height="1.8" fill="#d0d0d0" stroke="none"/></g><g transform="translate(1321.2,298.3) rotate(29.7)"><rect x="-12.2" y="-3.3" width="24.5" height="6.6" rx="3"/><rect x="-7.8" y="-1.2" width="14.5" height="1.8" fill="#d0d0d0" stroke="none"/></g><g transform="translate(1347.3,313.2) rotate(29.7)"><rect x="-12.2" y="-3.3" width="24.5" height="6.6" rx="3"/><rect x="-7.8" y="-1.2" width="14.5" height="1.8" fill="#d0d0d0" stroke="none"/></g><g transform="translate(1373.3,328.0) rotate(29.7)"><rect x="-12.2" y="-3.3" width="24.5" height="6.6" rx="3"/><rect x="-7.8" y="-1.2" width="14.5" height="1.8" fill="#d0d0d0" stroke="none"/></g><g transform="translate(1399.4,342.8) rotate(29.7)"><rect x="-12.2" y="-3.3" width="24.5" height="6.6" rx="3"/><rect x="-7.8" y="-1.2" width="14.5" height="1.8" fill="#d0d0d0" stroke="none"/></g><g transform="translate(1425.4,357.7) rotate(29.7)"><rect x="-12.2" y="-3.3" width="24.5" height="6.6" rx="3"/><rect x="-7.8" y="-1.2" width="14.5" height="1.8" fill="#d0d0d0" stroke="none"/></g><g transform="translate(1451.5,372.5) rotate(29.7)"><rect x="-12.2" y="-3.3" width="24.5" height="6.6" rx="3"/><rect x="-7.8" y="-1.2" width="14.5" height="1.8" fill="#d0d0d0" stroke="none"/></g><g transform="translate(1477.6,387.4) rotate(29.7)"><rect x="-12.2" y="-3.3" width="24.5" height="6.6" rx="3"/><rect x="-7.8" y="-1.2" width="14.5" height="1.8" fill="#d0d0d0" stroke="none"/></g><g transform="translate(1503.6,402.2) rotate(29.7)"><rect x="-12.2" y="-3.3" width="24.5" height="6.6" rx="3"/><rect x="-7.8" y="-1.2" width="14.5" height="1.8" fill="#d0d0d0" stroke="none"/></g><g transform="translate(1529.7,417.0) rotate(29.7)"><rect x="-12.2" y="-3.3" width="24.5" height="6.6" rx="3"/><rect x="-7.8" y="-1.2" width="14.5" height="1.8" fill="#d0d0d0" stroke="none"/></g><g transform="translate(1555.7,431.9) rotate(29.7)"><rect x="-12.2" y="-3.3" width="24.5" height="6.6" rx="3"/><rect x="-7.8" y="-1.2" width="14.5" height="1.8" fill="#d0d0d0" stroke="none"/></g><g transform="translate(1581.8,446.7) rotate(29.7)"><rect x="-12.2" y="-3.3" width="24.5" height="6.6" rx="3"/><rect x="-7.8" y="-1.2" width="14.5" height="1.8" fill="#d0d0d0" stroke="none"/></g><g transform="translate(1607.9,461.6) rotate(29.7)"><rect x="-12.2" y="-3.3" width="24.5" height="6.6" rx="3"/><rect x="-7.8" y="-1.2" width="14.5" height="1.8" fill="#d0d0d0" stroke="none"/></g><g transform="translate(1633.9,476.4) rotate(29.7)"><rect x="-12.2" y="-3.3" width="24.5" height="6.6" rx="3"/><rect x="-7.8" y="-1.2" width="14.5" height="1.8" fill="#d0d0d0" stroke="none"/></g><g transform="translate(1660.0,491.2) rotate(29.7)"><rect x="-12.2" y="-3.3" width="24.5" height="6.6" rx="3"/><rect x="-7.8" y="-1.2" width="14.5" height="1.8" fill="#d0d0d0" stroke="none"/></g><g transform="translate(1686.0,506.1) rotate(29.7)"><rect x="-12.2" y="-3.3" width="24.5" height="6.6" rx="3"/><rect x="-7.8" y="-1.2" width="14.5" height="1.8" fill="#d0d0d0" stroke="none"/></g><g transform="translate(1254.6,247.2) rotate(29.7)"><rect x="-12.2" y="-3.3" width="24.5" height="6.6" rx="3"/><rect x="-7.8" y="-1.2" width="14.5" height="1.8" fill="#d0d0d0" stroke="none"/></g><g transform="translate(1280.6,262.0) rotate(29.7)"><rect x="-12.2" y="-3.3" width="24.5" height="6.6" rx="3"/><rect x="-7.8" y="-1.2" width="14.5" height="1.8" fill="#d0d0d0" stroke="none"/></g><g transform="translate(1306.7,276.8) rotate(29.7)"><rect x="-12.2" y="-3.3" width="24.5" height="6.6" rx="3"/><rect x="-7.8" y="-1.2" width="14.5" height="1.8" fill="#d0d0d0" stroke="none"/></g><g transform="translate(1332.8,291.7) rotate(29.7)"><rect x="-12.2" y="-3.3" width="24.5" height="6.6" rx="3"/><rect x="-7.8" y="-1.2" width="14.5" height="1.8" fill="#d0d0d0" stroke="none"/></g><g transform="translate(1358.8,306.5) rotate(29.7)"><rect x="-12.2" y="-3.3" width="24.5" height="6.6" rx="3"/><rect x="-7.8" y="-1.2" width="14.5" height="1.8" fill="#d0d0d0" stroke="none"/></g><g transform="translate(1384.9,321.4) rotate(29.7)"><rect x="-12.2" y="-3.3" width="24.5" height="6.6" rx="3"/><rect x="-7.8" y="-1.2" width="14.5" height="1.8" fill="#d0d0d0" stroke="none"/></g><g transform="translate(1410.9,336.2) rotate(29.7)"><rect x="-12.2" y="-3.3" width="24.5" height="6.6" rx="3"/><rect x="-7.8" y="-1.2" width="14.5" height="1.8" fill="#d0d0d0" stroke="none"/></g><g transform="translate(1437.0,351.0) rotate(29.7)"><rect x="-12.2" y="-3.3" width="24.5" height="6.6" rx="3"/><rect x="-7.8" y="-1.2" width="14.5" height="1.8" fill="#d0d0d0" stroke="none"/></g><g transform="translate(1463.1,365.9) rotate(29.7)"><rect x="-12.2" y="-3.3" width="24.5" height="6.6" rx="3"/><rect x="-7.8" y="-1.2" width="14.5" height="1.8" fill="#d0d0d0" stroke="none"/></g><g transform="translate(1489.1,380.7) rotate(29.7)"><rect x="-12.2" y="-3.3" width="24.5" height="6.6" rx="3"/><rect x="-7.8" y="-1.2" width="14.5" height="1.8" fill="#d0d0d0" stroke="none"/></g><g transform="translate(1515.2,395.6) rotate(29.7)"><rect x="-12.2" y="-3.3" width="24.5" height="6.6" rx="3"/><rect x="-7.8" y="-1.2" width="14.5" height="1.8" fill="#d0d0d0" stroke="none"/></g><g transform="translate(1541.2,410.4) rotate(29.7)"><rect x="-12.2" y="-3.3" width="24.5" height="6.6" rx="3"/><rect x="-7.8" y="-1.2" width="14.5" height="1.8" fill="#d0d0d0" stroke="none"/></g><g transform="translate(1567.3,425.2) rotate(29.7)"><rect x="-12.2" y="-3.3" width="24.5" height="6.6" rx="3"/><rect x="-7.8" y="-1.2" width="14.5" height="1.8" fill="#d0d0d0" stroke="none"/></g><g transform="translate(1593.4,440.1) rotate(29.7)"><rect x="-12.2" y="-3.3" width="24.5" height="6.6" rx="3"/><rect x="-7.8" y="-1.2" width="14.5" height="1.8" fill="#d0d0d0" stroke="none"/></g><g transform="translate(1619.4,454.9) rotate(29.7)"><rect x="-12.2" y="-3.3" width="24.5" height="6.6" rx="3"/><rect x="-7.8" y="-1.2" width="14.5" height="1.8" fill="#d0d0d0" stroke="none"/></g><g transform="translate(1645.5,469.8) rotate(29.7)"><rect x="-12.2" y="-3.3" width="24.5" height="6.6" rx="3"/><rect x="-7.8" y="-1.2" width="14.5" height="1.8" fill="#d0d0d0" stroke="none"/></g><g transform="translate(1671.5,484.6) rotate(29.7)"><rect x="-12.2" y="-3.3" width="24.5" height="6.6" rx="3"/><rect x="-7.8" y="-1.2" width="14.5" height="1.8" fill="#d0d0d0" stroke="none"/></g><g transform="translate(1697.6,499.4) rotate(29.7)"><rect x="-12.2" y="-3.3" width="24.5" height="6.6" rx="3"/><rect x="-7.8" y="-1.2" width="14.5" height="1.8" fill="#d0d0d0" stroke="none"/></g><g transform="translate(1266.1,240.5) rotate(29.7)"><rect x="-12.2" y="-3.3" width="24.5" height="6.6" rx="3"/><rect x="-7.8" y="-1.2" width="14.5" height="1.8" fill="#d0d0d0" stroke="none"/></g><g transform="translate(1292.2,255.4) rotate(29.7)"><rect x="-12.2" y="-3.3" width="24.5" height="6.6" rx="3"/><rect x="-7.8" y="-1.2" width="14.5" height="1.8" fill="#d0d0d0" stroke="none"/></g><g transform="translate(1318.3,270.2) rotate(29.7)"><rect x="-12.2" y="-3.3" width="24.5" height="6.6" rx="3"/><rect x="-7.8" y="-1.2" width="14.5" height="1.8" fill="#d0d0d0" stroke="none"/></g><g transform="translate(1344.3,285.1) rotate(29.7)"><rect x="-12.2" y="-3.3" width="24.5" height="6.6" rx="3"/><rect x="-7.8" y="-1.2" width="14.5" height="1.8" fill="#d0d0d0" stroke="none"/></g><g transform="translate(1370.4,299.9) rotate(29.7)"><rect x="-12.2" y="-3.3" width="24.5" height="6.6" rx="3"/><rect x="-7.8" y="-1.2" width="14.5" height="1.8" fill="#d0d0d0" stroke="none"/></g><g transform="translate(1396.4,314.7) rotate(29.7)"><rect x="-12.2" y="-3.3" width="24.5" height="6.6" rx="3"/><rect x="-7.8" y="-1.2" width="14.5" height="1.8" fill="#d0d0d0" stroke="none"/></g><g transform="translate(1422.5,329.6) rotate(29.7)"><rect x="-12.2" y="-3.3" width="24.5" height="6.6" rx="3"/><rect x="-7.8" y="-1.2" width="14.5" height="1.8" fill="#d0d0d0" stroke="none"/></g><g transform="translate(1448.6,344.4) rotate(29.7)"><rect x="-12.2" y="-3.3" width="24.5" height="6.6" rx="3"/><rect x="-7.8" y="-1.2" width="14.5" height="1.8" fill="#d0d0d0" stroke="none"/></g><g transform="translate(1474.6,359.2) rotate(29.7)"><rect x="-12.2" y="-3.3" width="24.5" height="6.6" rx="3"/><rect x="-7.8" y="-1.2" width="14.5" height="1.8" fill="#d0d0d0" stroke="none"/></g><g transform="translate(1500.7,374.1) rotate(29.7)"><rect x="-12.2" y="-3.3" width="24.5" height="6.6" rx="3"/><rect x="-7.8" y="-1.2" width="14.5" height="1.8" fill="#d0d0d0" stroke="none"/></g><g transform="translate(1526.7,388.9) rotate(29.7)"><rect x="-12.2" y="-3.3" width="24.5" height="6.6" rx="3"/><rect x="-7.8" y="-1.2" width="14.5" height="1.8" fill="#d0d0d0" stroke="none"/></g><g transform="translate(1552.8,403.8) rotate(29.7)"><rect x="-12.2" y="-3.3" width="24.5" height="6.6" rx="3"/><rect x="-7.8" y="-1.2" width="14.5" height="1.8" fill="#d0d0d0" stroke="none"/></g><g transform="translate(1578.9,418.6) rotate(29.7)"><rect x="-12.2" y="-3.3" width="24.5" height="6.6" rx="3"/><rect x="-7.8" y="-1.2" width="14.5" height="1.8" fill="#d0d0d0" stroke="none"/></g><g transform="translate(1604.9,433.4) rotate(29.7)"><rect x="-12.2" y="-3.3" width="24.5" height="6.6" rx="3"/><rect x="-7.8" y="-1.2" width="14.5" height="1.8" fill="#d0d0d0" stroke="none"/></g><g transform="translate(1631.0,448.3) rotate(29.7)"><rect x="-12.2" y="-3.3" width="24.5" height="6.6" rx="3"/><rect x="-7.8" y="-1.2" width="14.5" height="1.8" fill="#d0d0d0" stroke="none"/></g><g transform="translate(1657.0,463.1) rotate(29.7)"><rect x="-12.2" y="-3.3" width="24.5" height="6.6" rx="3"/><rect x="-7.8" y="-1.2" width="14.5" height="1.8" fill="#d0d0d0" stroke="none"/></g><g transform="translate(1683.1,478.0) rotate(29.7)"><rect x="-12.2" y="-3.3" width="24.5" height="6.6" rx="3"/><rect x="-7.8" y="-1.2" width="14.5" height="1.8" fill="#d0d0d0" stroke="none"/></g><g transform="translate(1709.2,492.8) rotate(29.7)"><rect x="-12.2" y="-3.3" width="24.5" height="6.6" rx="3"/><rect x="-7.8" y="-1.2" width="14.5" height="1.8" fill="#d0d0d0" stroke="none"/></g></g>
<g fill="#111"><circle cx="1268.2" cy="226.5" r="2.6"/><circle cx="1359.6" cy="281.4" r="2.6"/><circle cx="1451.7" cy="333.9" r="2.6"/><circle cx="1543.5" cy="386.8" r="2.6"/><circle cx="1636.6" cy="440" r="2.6"/><circle cx="1728.8" cy="494.2" r="2.6"/><circle cx="1725.4" cy="506.5" r="2.6"/><circle cx="1653.9" cy="547.4" r="2.6"/><circle cx="1580.8" cy="589.7" r="2.6"/><circle cx="1507.6" cy="631.2" r="2.6"/><circle cx="1486" cy="632.2" r="2.6"/><circle cx="1394.5" cy="580.7" r="2.6"/><circle cx="1302.1" cy="525.8" r="2.6"/><circle cx="1210" cy="472.6" r="2.6"/><circle cx="1117.4" cy="419.7" r="2.6"/><circle cx="1025.7" cy="366.6" r="2.6"/><circle cx="1028" cy="354.6" r="2.6"/><circle cx="1100.5" cy="313.6" r="2.6"/><circle cx="1172.8" cy="270.1" r="2.6"/><circle cx="1252" cy="228" r="2.6"/></g>
<polygon points="1429.4,743.1 853.8,412.5 1257.0,181.0 1833.0,512.5 1486.2,710.0 1429.4,743.1" fill="none" stroke="#111" stroke-width="2.40" stroke-linejoin="round" />
<polyline points="933.1,373.1 1257.0,187.0 1799.0,500.0" fill="none" stroke="#111" stroke-width="3.20" stroke-linejoin="round" />
<line x1="911.0" y1="381.0" x2="1486.2" y2="710.0" stroke="#111" stroke-width="2.60" />
<line x1="955.6" y1="363.1" x2="1496.2" y2="671.9" stroke="#333" stroke-width="3.00" />
<line x1="955.0" y1="373.8" x2="1496.2" y2="682.5" stroke="#111" stroke-width="2.60" />
<polyline points="933.1,373.1 948.8,383.8 1496.2,698.8" fill="none" stroke="#111" stroke-width="2.60" stroke-linejoin="round" />
<line x1="937.5" y1="373.0" x2="955.0" y2="373.8" stroke="#111" stroke-width="1.60" />
<line x1="1496.2" y1="671.9" x2="1798.8" y2="500.0" stroke="#111" stroke-width="2.60" />
<line x1="1496.2" y1="682.5" x2="1810.0" y2="506.0" stroke="#111" stroke-width="2.40" />
<line x1="1496.2" y1="698.8" x2="1821.0" y2="511.0" stroke="#111" stroke-width="2.40" />
<line x1="1496.2" y1="671.9" x2="1496.2" y2="698.8" stroke="#111" stroke-width="2.40" />
<g fill="#111"><ellipse cx="966.25" cy="388.75" rx="3.2" ry="2.4"/><ellipse cx="1092.5" cy="461.25" rx="3.2" ry="2.4"/><ellipse cx="1217.5" cy="533.75" rx="3.2" ry="2.4"/><ellipse cx="1343" cy="607.3" rx="3.2" ry="2.4"/><ellipse cx="1469.4" cy="678.8" rx="3.2" ry="2.4"/><ellipse cx="1655.6" cy="602.3" rx="3.2" ry="2.4"/><ellipse cx="1795.3" cy="522.5" rx="3.2" ry="2.4"/></g>
<line x1="853.8" y1="413.8" x2="823.8" y2="828.1" stroke="#111" stroke-width="2.20" />
<line x1="1429.4" y1="743.1" x2="1397.5" y2="1160.0" stroke="#111" stroke-width="2.60" />
<line x1="823.8" y1="828.1" x2="1397.5" y2="1160.0" stroke="#111" stroke-width="2.00" />
<line x1="823.8" y1="828.1" x2="843.1" y2="900.0" stroke="#111" stroke-width="2.00" />
<line x1="1397.5" y1="1160.0" x2="1416.9" y2="1230.0" stroke="#111" stroke-width="2.40" />
<line x1="843.1" y1="900.0" x2="1416.9" y2="1230.0" stroke="#111" stroke-width="2.00" />
<polyline points="1486.2,710.0 1450.0,1216.2 1420.5,1606.2 1418.8,1648.4" fill="none" stroke="#111" stroke-width="2.60" stroke-linejoin="round" />
<line x1="1416.9" y1="1230.0" x2="1450.0" y2="1216.2" stroke="#111" stroke-width="1.80" />
<polygon points="1433.1,1150.6 1453.8,1161.0 1453.8,1180.0 1433.1,1168.0" fill="none" stroke="#111" stroke-width="1.40" stroke-linejoin="round" />
<line x1="1433.1" y1="1150.6" x2="1453.8" y2="1180.0" stroke="#111" stroke-width="1.00" />
<line x1="1433.1" y1="1168.0" x2="1453.8" y2="1161.0" stroke="#111" stroke-width="1.00" />
<line x1="1833.0" y1="512.5" x2="1832.3" y2="1410.0" stroke="#111" stroke-width="2.20" />
<polyline points="1397.7,1660.6 1418.8,1648.4 1832.3,1410.0" fill="none" stroke="#111" stroke-width="2.20" stroke-linejoin="round" />
<polyline points="853.8,906.9 826.2,1282.5 823.8,1330.0" fill="none" stroke="#111" stroke-width="2.20" stroke-linejoin="round" />
<line x1="878.8" y1="920.0" x2="851.2" y2="1292.5" stroke="#111" stroke-width="3.60" />
<line x1="886.0" y1="925.0" x2="858.6" y2="1288.8" stroke="#111" stroke-width="3.60" />
<line x1="873.8" y1="1210.0" x2="867.5" y2="1286.0" stroke="#111" stroke-width="2.60" />
<line x1="888.8" y1="1220.0" x2="883.8" y2="1276.0" stroke="#111" stroke-width="1.80" />
<line x1="868.2" y1="1285.0" x2="883.4" y2="1276.6" stroke="#111" stroke-width="1.80" />
<line x1="868.2" y1="1207.1" x2="873.8" y2="1210.0" stroke="#111" stroke-width="1.80" />
<line x1="826.2" y1="1284.0" x2="1378.2" y2="1600.5" stroke="#111" stroke-width="3.00" />
<line x1="823.8" y1="1330.0" x2="1397.7" y2="1660.6" stroke="#111" stroke-width="2.20" />
<line x1="883.4" y1="1276.6" x2="1381.5" y2="1561.5" stroke="#111" stroke-width="2.20" />
<line x1="869.2" y1="1207.0" x2="1384.7" y2="1503.0" stroke="#111" stroke-width="1.80" />
<line x1="885.9" y1="1250.2" x2="915.1" y2="1234.9" stroke="#111" stroke-width="1.60" />
<line x1="1025.1" y1="1356.0" x2="1075.2" y2="1326.7" stroke="#111" stroke-width="1.60" />
<line x1="1240.8" y1="1481.2" x2="1290.9" y2="1452.0" stroke="#111" stroke-width="1.60" />
<line x1="1406.0" y1="1226.0" x2="1378.2" y2="1599.7" stroke="#111" stroke-width="2.60" />
<line x1="1431.0" y1="1227.5" x2="1402.6" y2="1615.9" stroke="#111" stroke-width="3.00" />
<polyline points="1378.2,1599.7 1402.6,1615.9 1420.5,1606.2" fill="none" stroke="#111" stroke-width="2.40" stroke-linejoin="round" />
<line x1="1402.6" y1="1615.9" x2="1397.7" y2="1660.6" stroke="#111" stroke-width="2.80" />
<line x1="1429.4" y1="743.1" x2="1486.2" y2="710.0" stroke="#111" stroke-width="2.00" />
<path d="M1481.7,1268.6 Q1485.0,1222.7 1525.3,1200.5 L1730.1,1087.3 Q1770.4,1065.1 1770.4,1111.1 L1770.4,1345.0 Q1770.4,1391.0 1730.4,1413.7 L1500.0,1544.3 Q1460.0,1567.0 1463.3,1521.1 Z" fill="none" stroke="#111" stroke-width="2.2"/>
<path d="M1489.5,1270.4 Q1492.0,1230.5 1527.0,1211.2 L1723.8,1102.6 Q1758.8,1083.3 1758.8,1123.3 L1758.8,1332.0 Q1758.8,1372.0 1724.1,1392.0 L1507.2,1517.0 Q1472.5,1537.0 1475.0,1497.1 Z" fill="none" stroke="#111" stroke-width="2.2"/>
<line x1="1500.9" y1="1242.6" x2="1738.6" y2="1381.7" stroke="#111" stroke-width="1.80" />
<line x1="1489.3" y1="1526.7" x2="1738.6" y2="1381.7" stroke="#111" stroke-width="3.20" />
<path d="M1547,1224 L1557.2,1208.7 L1625.2,1172.7 L1630.8,1183.3 L1562.8,1219.3 Z" fill="#fff" stroke="#111" stroke-width="2"/>
<path d="M1557.2,1208.7 Q1556,1216 1562.8,1219.3" fill="none" stroke="#111" stroke-width="1.4"/>
<ellipse cx="1628" cy="1178" rx="4.5" ry="6.5" transform="rotate(-28 1628 1178)" fill="#fff" stroke="#111" stroke-width="2.6"/>
<ellipse cx="1685" cy="1222" rx="14" ry="17" fill="none" stroke="#111" stroke-width="1.8"/>
<path d="M1678,1198 L1695,1196 L1703,1213 L1705,1246 L1693,1248" fill="none" stroke="#111" stroke-width="2.2"/>
<g stroke="#222" stroke-width="1.4" fill="none"><path d="M951,1105 L951,1121 M957,1093 L957,1135 M965,1103 L965,1121"/></g>
<g stroke="#222" stroke-width="1.4" fill="none"><path d="M1138,1197 L1138,1213 M1144,1185 L1144,1227 M1152,1195 L1152,1213"/></g>
<g stroke="#222" stroke-width="1.4" fill="none"><path d="M1313,1297 L1313,1313 M1319,1285 L1319,1327 M1327,1295 L1327,1313"/></g>
<g stroke="#222" stroke-width="1.4" fill="none"><path d="M1551,1330 L1551,1346 M1557,1318 L1557,1360 M1565,1328 L1565,1346"/></g>
<g stroke="#222" stroke-width="1.4" fill="none"><path d="M1681,1292 L1681,1308 M1687,1280 L1687,1322 M1695,1290 L1695,1308"/></g>
<line x1="937.6" y1="682.8" x2="937.6" y2="716.2" stroke="#111" stroke-width="1.80" />
<line x1="1751.6" y1="818.5" x2="1751.6" y2="851.9" stroke="#111" stroke-width="1.80" />
<line x1="937.6" y1="682.8" x2="1459.4" y2="983.4" stroke="#111" stroke-width="1.80" stroke-dasharray="41,20"/>
<line x1="937.6" y1="716.2" x2="1459.4" y2="1016.8" stroke="#111" stroke-width="1.80" stroke-dasharray="41,20"/>
<line x1="1751.6" y1="818.5" x2="1459.4" y2="983.4" stroke="#111" stroke-width="1.80" stroke-dasharray="41,20" stroke-dashoffset="10"/>
<line x1="1751.6" y1="851.9" x2="1459.4" y2="1016.8" stroke="#111" stroke-width="1.80" stroke-dasharray="41,20" stroke-dashoffset="9"/>
<line x1="937.6" y1="682.8" x2="1179.7" y2="540.9" stroke="#111" stroke-width="1.80" stroke-dasharray="41,20"/>
<line x1="1751.6" y1="818.5" x2="1548.9" y2="701.5" stroke="#111" stroke-width="1.80" stroke-dasharray="45,19"/>
<polygon points="1180.0,46.0 1214.0,103.0 1250.0,47.0 1223.0,261.0 1247.0,236.0 1214.0,340.0 1180.0,235.0 1206.0,259.0" fill="#ffff00"/>
<polygon points="1369.0,152.0 1403.0,209.0 1439.0,153.0 1412.0,367.0 1436.0,342.0 1403.0,446.0 1369.0,341.0 1395.0,365.0" fill="#ffff00"/>
<polygon points="1551.0,260.0 1585.0,317.0 1621.0,261.0 1594.0,475.0 1618.0,450.0 1585.0,554.0 1551.0,449.0 1577.0,473.0" fill="#ffff00"/>
<polygon points="1050.2,674.3 1078.7,706.8 1113.4,668.8 1087.0,811.3 1110.0,795.8 1079.4,873.8 1047.4,791.8 1071.0,808.6" fill="#02fd0a"/>
<polygon points="1249.3,804.3 1277.8,836.8 1312.5,798.8 1286.1,941.3 1309.1,925.8 1278.5,1003.8 1246.5,921.8 1270.1,938.6" fill="#02fd0a"/>
<polygon points="1516.5,928.3 1545.0,960.8 1579.7,922.8 1553.3,1065.3 1576.3,1049.8 1545.7,1127.8 1513.7,1045.8 1537.3,1062.6" fill="#02fd0a"/>
<path transform="translate(0.0,0.0)" d="M698.3,1345.7 L800,1316.5 L773.5,1339.5 C800,1340 830,1338 855,1328 C880,1316 900,1295 914.7,1259.5 L914.4,1298.5 L964.1,1286.6 C950,1312 925,1335 892,1350 C860,1364 820,1368 769.5,1362 L798.5,1379.8 Z" fill="#fa0202"/>
<path transform="translate(231.7,123.3)" d="M698.3,1345.7 L800,1316.5 L773.5,1339.5 C800,1340 830,1338 855,1328 C880,1316 900,1295 914.7,1259.5 L914.4,1298.5 L964.1,1286.6 C950,1312 925,1335 892,1350 C860,1364 820,1368 769.5,1362 L798.5,1379.8 Z" fill="#fa0202"/>
<path transform="translate(395.5,224.0)" d="M698.3,1345.7 L800,1316.5 L773.5,1339.5 C800,1340 830,1338 855,1328 C880,1316 900,1295 914.7,1259.5 L914.4,1298.5 L964.1,1286.6 C950,1312 925,1335 892,1350 C860,1364 820,1368 769.5,1362 L798.5,1379.8 Z" fill="#fa0202"/>
<polygon points="721.3,1860.4 848.4,1860.4 848.4,1840.4 1018.2,1870.1 848.4,1900.1 848.4,1879 721.3,1879" fill="#ffff00"/>
<polygon points="1118.6,1853.8 1244.7,1853.8 1244.7,1834.5 1419.1,1863.6 1244.7,1893.3 1244.7,1872.9 1118.6,1872.9" fill="#02fd0a"/>
<polygon points="1526.9,1853 1653,1853 1653,1833.4 1825.6,1862.3 1653,1891.4 1653,1871 1526.9,1871" fill="#fa0202"/>
<text x="767.7" y="1948" font-family="Liberation Sans, sans-serif" font-weight="bold" font-size="43" fill="#0a0a0a" textLength="180" lengthAdjust="spacingAndGlyphs">indoor air</text>
<text x="1182.6" y="1948" font-family="Liberation Sans, sans-serif" font-weight="bold" font-size="43" fill="#0a0a0a" textLength="155.8" lengthAdjust="spacingAndGlyphs">clean air</text>
<text x="1547.9" y="1958.2" font-family="Liberation Sans, sans-serif" font-weight="bold" font-size="43" fill="#0a0a0a" textLength="258.2" lengthAdjust="spacingAndGlyphs">pollute the air</text></svg>
</body></html>
